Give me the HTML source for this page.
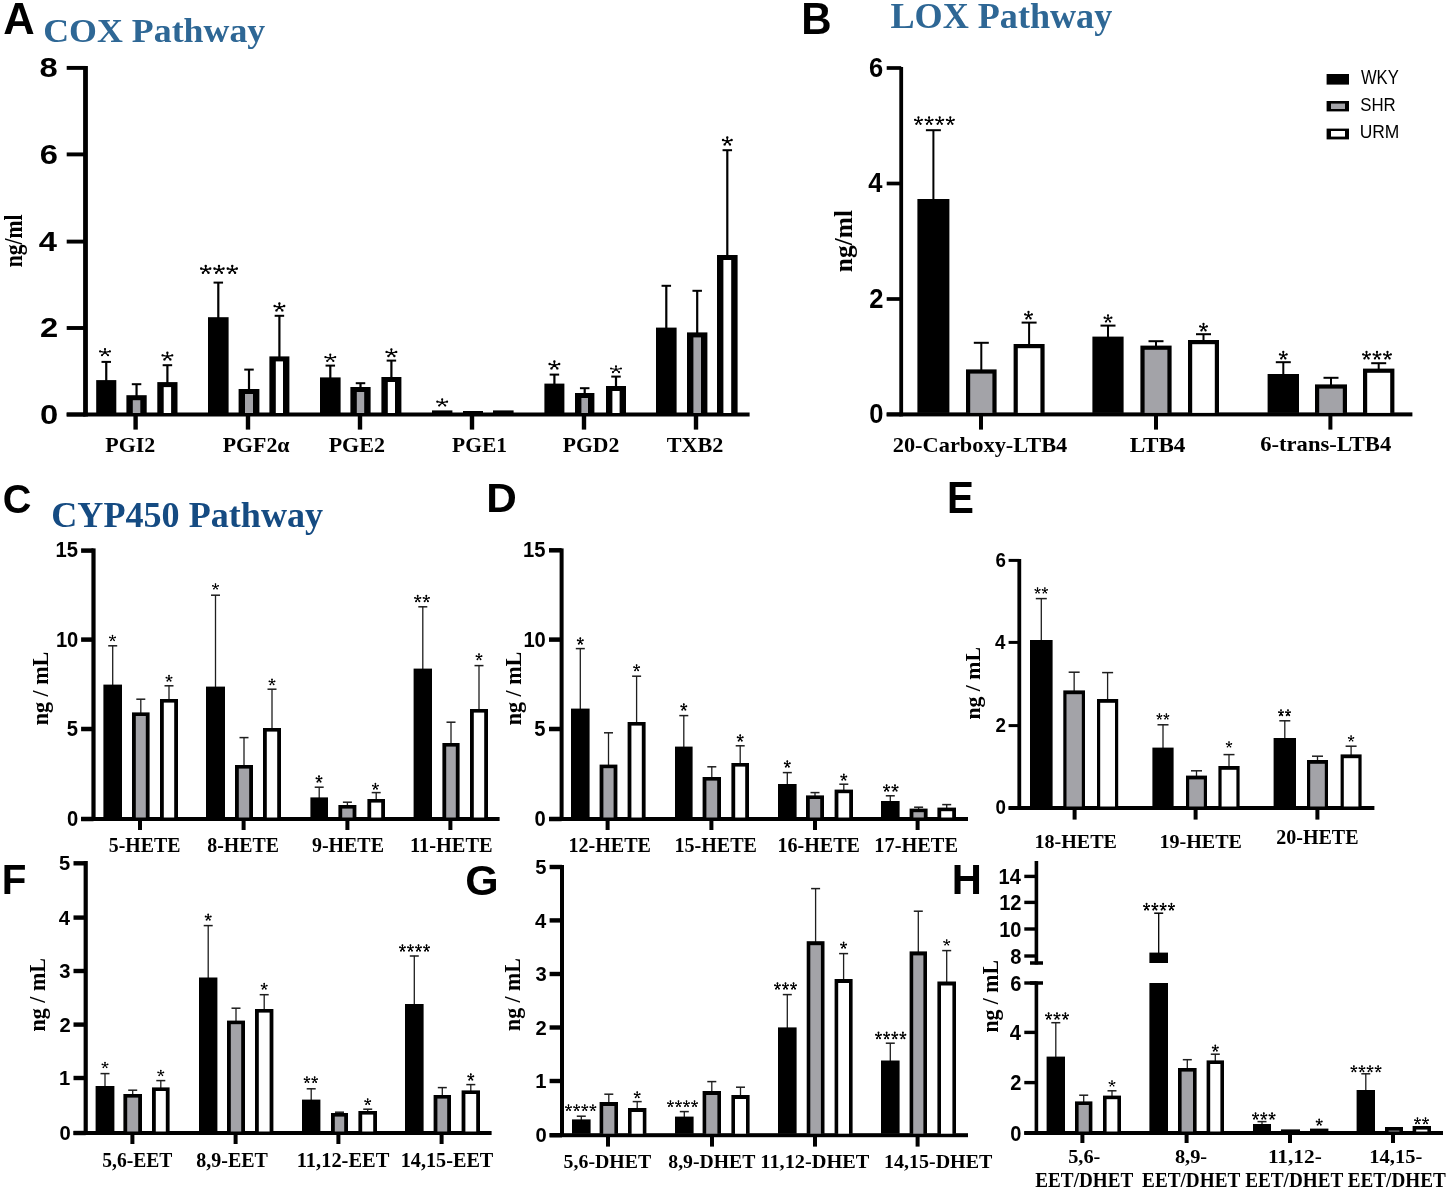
<!DOCTYPE html><html><head><meta charset="utf-8"><style>html,body{margin:0;padding:0;background:#fff;}svg{display:block;will-change:transform;}</style></head><body><svg width="1450" height="1191" viewBox="0 0 1450 1191">
<rect width="1450" height="1191" fill="#fff"/>
<text transform="translate(3.31,34.40) scale(0.9892,1)" font-family='"Liberation Sans", sans-serif' font-weight="bold" font-size="44.06" fill="#000">A</text>
<text transform="translate(801.27,34.00) scale(0.9652,1)" font-family='"Liberation Sans", sans-serif' font-weight="bold" font-size="43.48" fill="#000">B</text>
<text transform="translate(2.81,512.59) scale(0.9718,1)" font-family='"Liberation Sans", sans-serif' font-weight="bold" font-size="40.85" fill="#000">C</text>
<text transform="translate(486.25,512.40) scale(1.0271,1)" font-family='"Liberation Sans", sans-serif' font-weight="bold" font-size="41.16" fill="#000">D</text>
<text transform="translate(946.98,513.00) scale(0.9281,1)" font-family='"Liberation Sans", sans-serif' font-weight="bold" font-size="43.48" fill="#000">E</text>
<text transform="translate(1.77,894.40) scale(0.9480,1)" font-family='"Liberation Sans", sans-serif' font-weight="bold" font-size="42.61" fill="#000">F</text>
<text transform="translate(465.28,894.58) scale(1.0168,1)" font-family='"Liberation Sans", sans-serif' font-weight="bold" font-size="42.25" fill="#000">G</text>
<text transform="translate(951.69,894.40) scale(0.9786,1)" font-family='"Liberation Sans", sans-serif' font-weight="bold" font-size="42.61" fill="#000">H</text>
<text transform="translate(43.21,42.40) scale(1.0384,1)" font-family='"Liberation Serif", serif' font-weight="bold" font-size="34.53" fill="#2e6795">COX Pathway</text>
<text transform="translate(890.46,28.00) scale(1.0294,1)" font-family='"Liberation Serif", serif' font-weight="bold" font-size="35.11" fill="#2e6795">LOX Pathway</text>
<text transform="translate(51.19,527.00) scale(1.0048,1)" font-family='"Liberation Serif", serif' font-weight="bold" font-size="35.97" fill="#154b82">CYP450 Pathway</text>
<rect x="83.10" y="66.00" width="4.80" height="350.50" fill="#000"/>
<rect x="66.70" y="65.95" width="18.80" height="3.90" fill="#000"/>
<rect x="66.70" y="152.45" width="18.80" height="3.90" fill="#000"/>
<rect x="66.70" y="239.65" width="18.80" height="3.90" fill="#000"/>
<rect x="66.70" y="326.05" width="18.80" height="3.90" fill="#000"/>
<rect x="66.70" y="412.55" width="18.80" height="3.90" fill="#000"/>
<rect x="66.70" y="412.50" width="682.90" height="4.00" fill="#000"/>
<rect x="133.40" y="415.50" width="4.40" height="14.10" fill="#000"/>
<rect x="245.80" y="415.50" width="4.40" height="14.10" fill="#000"/>
<rect x="357.80" y="415.50" width="4.40" height="14.10" fill="#000"/>
<rect x="469.80" y="415.50" width="4.40" height="14.10" fill="#000"/>
<rect x="581.80" y="415.50" width="4.40" height="14.10" fill="#000"/>
<rect x="693.80" y="415.50" width="4.40" height="14.10" fill="#000"/>
<text transform="translate(39.62,77.03) scale(1.2040,1)" font-family='"Liberation Sans", sans-serif' font-weight="bold" font-size="27.18" fill="#000">8</text>
<text transform="translate(39.78,163.53) scale(1.2040,1)" font-family='"Liberation Sans", sans-serif' font-weight="bold" font-size="27.18" fill="#000">6</text>
<text transform="translate(38.80,250.73) scale(1.2040,1)" font-family='"Liberation Sans", sans-serif' font-weight="bold" font-size="27.18" fill="#000">4</text>
<text transform="translate(39.95,337.26) scale(1.2040,1)" font-family='"Liberation Sans", sans-serif' font-weight="bold" font-size="27.18" fill="#000">2</text>
<text transform="translate(39.95,423.63) scale(1.2040,1)" font-family='"Liberation Sans", sans-serif' font-weight="bold" font-size="27.18" fill="#000">0</text>
<rect x="105.15" y="361.70" width="2.20" height="19.40" fill="#000"/>
<rect x="101.50" y="360.90" width="9.50" height="2.00" fill="#000"/>
<rect x="96.20" y="380.10" width="20.10" height="32.90" fill="#000"/>
<rect x="135.45" y="384.00" width="2.20" height="12.20" fill="#000"/>
<rect x="131.80" y="383.20" width="9.50" height="2.00" fill="#000"/>
<rect x="126.40" y="395.20" width="20.30" height="17.80" fill="#000"/>
<rect x="132.80" y="400.20" width="7.50" height="12.80" fill="#a3a3a8"/>
<rect x="166.30" y="365.00" width="2.20" height="18.10" fill="#000"/>
<rect x="162.65" y="364.20" width="9.50" height="2.00" fill="#000"/>
<rect x="157.30" y="382.10" width="20.20" height="30.90" fill="#000"/>
<rect x="163.70" y="387.10" width="7.40" height="25.90" fill="#fff"/>
<rect x="217.20" y="282.40" width="2.20" height="35.80" fill="#000"/>
<rect x="213.55" y="281.60" width="9.50" height="2.00" fill="#000"/>
<rect x="208.00" y="317.20" width="20.60" height="95.80" fill="#000"/>
<rect x="247.90" y="369.40" width="2.20" height="20.60" fill="#000"/>
<rect x="244.25" y="368.60" width="9.50" height="2.00" fill="#000"/>
<rect x="238.60" y="389.00" width="20.80" height="24.00" fill="#000"/>
<rect x="245.00" y="394.00" width="8.00" height="19.00" fill="#a3a3a8"/>
<rect x="278.30" y="315.60" width="2.20" height="41.80" fill="#000"/>
<rect x="274.65" y="314.80" width="9.50" height="2.00" fill="#000"/>
<rect x="269.40" y="356.40" width="20.00" height="56.60" fill="#000"/>
<rect x="275.80" y="361.40" width="7.20" height="51.60" fill="#fff"/>
<rect x="329.20" y="365.40" width="2.20" height="13.00" fill="#000"/>
<rect x="325.55" y="364.60" width="9.50" height="2.00" fill="#000"/>
<rect x="320.00" y="377.40" width="20.60" height="35.60" fill="#000"/>
<rect x="359.40" y="383.00" width="2.20" height="5.00" fill="#000"/>
<rect x="355.75" y="382.20" width="9.50" height="2.00" fill="#000"/>
<rect x="350.40" y="387.00" width="20.20" height="26.00" fill="#000"/>
<rect x="356.80" y="392.00" width="7.40" height="21.00" fill="#a3a3a8"/>
<rect x="390.30" y="360.40" width="2.20" height="17.60" fill="#000"/>
<rect x="386.65" y="359.60" width="9.50" height="2.00" fill="#000"/>
<rect x="381.40" y="377.00" width="20.00" height="36.00" fill="#000"/>
<rect x="387.80" y="382.00" width="7.20" height="31.00" fill="#fff"/>
<rect x="432.00" y="410.40" width="20.40" height="2.60" fill="#000"/>
<rect x="463.00" y="411.00" width="20.00" height="2.00" fill="#000"/>
<rect x="493.00" y="410.40" width="20.60" height="2.60" fill="#000"/>
<rect x="553.30" y="374.40" width="2.20" height="10.20" fill="#000"/>
<rect x="549.65" y="373.60" width="9.50" height="2.00" fill="#000"/>
<rect x="544.40" y="383.60" width="20.00" height="29.40" fill="#000"/>
<rect x="583.60" y="388.00" width="2.20" height="6.00" fill="#000"/>
<rect x="579.95" y="387.20" width="9.50" height="2.00" fill="#000"/>
<rect x="575.00" y="393.00" width="19.40" height="20.00" fill="#000"/>
<rect x="581.40" y="398.00" width="6.60" height="15.00" fill="#a3a3a8"/>
<rect x="614.90" y="376.40" width="2.20" height="10.60" fill="#000"/>
<rect x="611.25" y="375.60" width="9.50" height="2.00" fill="#000"/>
<rect x="606.00" y="386.00" width="20.00" height="27.00" fill="#000"/>
<rect x="612.40" y="391.00" width="7.20" height="22.00" fill="#fff"/>
<rect x="665.20" y="285.60" width="2.20" height="43.00" fill="#000"/>
<rect x="661.55" y="284.80" width="9.50" height="2.00" fill="#000"/>
<rect x="656.00" y="327.60" width="20.60" height="85.40" fill="#000"/>
<rect x="696.10" y="290.60" width="2.20" height="42.80" fill="#000"/>
<rect x="692.45" y="289.80" width="9.50" height="2.00" fill="#000"/>
<rect x="687.00" y="332.40" width="20.40" height="80.60" fill="#000"/>
<rect x="693.40" y="337.40" width="7.60" height="75.60" fill="#a3a3a8"/>
<rect x="726.20" y="150.00" width="2.20" height="106.00" fill="#000"/>
<rect x="722.55" y="149.20" width="9.50" height="2.00" fill="#000"/>
<rect x="717.00" y="255.00" width="20.60" height="158.00" fill="#000"/>
<rect x="723.40" y="260.00" width="7.80" height="153.00" fill="#fff"/>
<path d="M105.00 352.47L105.00 349.08M105.00 352.47L109.92 351.43M105.00 352.47L108.04 355.22M105.00 352.47L101.96 355.22M105.00 352.47L100.08 351.43" stroke="#000" stroke-width="1.25" stroke-linecap="round" fill="none"/>
<path d="M103.92 349.08a1.08 1.08 0 1 0 2.16 0a1.08 1.08 0 1 0 -2.16 0M108.84 351.43a1.08 1.08 0 1 0 2.16 0a1.08 1.08 0 1 0 -2.16 0M106.96 355.22a1.08 1.08 0 1 0 2.16 0a1.08 1.08 0 1 0 -2.16 0M100.88 355.22a1.08 1.08 0 1 0 2.16 0a1.08 1.08 0 1 0 -2.16 0M99.00 351.43a1.08 1.08 0 1 0 2.16 0a1.08 1.08 0 1 0 -2.16 0M103.88 352.47a1.12 1.12 0 1 0 2.24 0a1.12 1.12 0 1 0 -2.24 0" fill="#000"/>
<path d="M167.40 356.45L167.40 352.77M167.40 356.45L172.23 355.31M167.40 356.45L170.39 359.43M167.40 356.45L164.41 359.43M167.40 356.45L162.57 355.31" stroke="#000" stroke-width="1.35" stroke-linecap="round" fill="none"/>
<path d="M166.23 352.77a1.17 1.17 0 1 0 2.34 0a1.17 1.17 0 1 0 -2.34 0M171.06 355.31a1.17 1.17 0 1 0 2.34 0a1.17 1.17 0 1 0 -2.34 0M169.22 359.43a1.17 1.17 0 1 0 2.34 0a1.17 1.17 0 1 0 -2.34 0M163.24 359.43a1.17 1.17 0 1 0 2.34 0a1.17 1.17 0 1 0 -2.34 0M161.40 355.31a1.17 1.17 0 1 0 2.34 0a1.17 1.17 0 1 0 -2.34 0M166.19 356.45a1.22 1.22 0 1 0 2.43 0a1.22 1.22 0 1 0 -2.43 0" fill="#000"/>
<path d="M205.71 269.76L205.71 266.00M205.71 269.76L210.23 268.60M205.71 269.76L208.51 272.80M205.71 269.76L202.92 272.80M205.71 269.76L201.20 268.60M219.00 269.76L219.00 266.00M219.00 269.76L223.52 268.60M219.00 269.76L221.79 272.80M219.00 269.76L216.21 272.80M219.00 269.76L214.48 268.60M232.29 269.76L232.29 266.00M232.29 269.76L236.80 268.60M232.29 269.76L235.08 272.80M232.29 269.76L229.49 272.80M232.29 269.76L227.77 268.60" stroke="#000" stroke-width="1.38" stroke-linecap="round" fill="none"/>
<path d="M204.52 266.00a1.20 1.20 0 1 0 2.39 0a1.20 1.20 0 1 0 -2.39 0M209.03 268.60a1.20 1.20 0 1 0 2.39 0a1.20 1.20 0 1 0 -2.39 0M207.31 272.80a1.20 1.20 0 1 0 2.39 0a1.20 1.20 0 1 0 -2.39 0M201.73 272.80a1.20 1.20 0 1 0 2.39 0a1.20 1.20 0 1 0 -2.39 0M200.00 268.60a1.20 1.20 0 1 0 2.39 0a1.20 1.20 0 1 0 -2.39 0M204.47 269.76a1.24 1.24 0 1 0 2.48 0a1.24 1.24 0 1 0 -2.48 0M217.80 266.00a1.20 1.20 0 1 0 2.39 0a1.20 1.20 0 1 0 -2.39 0M222.32 268.60a1.20 1.20 0 1 0 2.39 0a1.20 1.20 0 1 0 -2.39 0M220.60 272.80a1.20 1.20 0 1 0 2.39 0a1.20 1.20 0 1 0 -2.39 0M215.01 272.80a1.20 1.20 0 1 0 2.39 0a1.20 1.20 0 1 0 -2.39 0M213.29 268.60a1.20 1.20 0 1 0 2.39 0a1.20 1.20 0 1 0 -2.39 0M217.76 269.76a1.24 1.24 0 1 0 2.48 0a1.24 1.24 0 1 0 -2.48 0M231.09 266.00a1.20 1.20 0 1 0 2.39 0a1.20 1.20 0 1 0 -2.39 0M235.61 268.60a1.20 1.20 0 1 0 2.39 0a1.20 1.20 0 1 0 -2.39 0M233.88 272.80a1.20 1.20 0 1 0 2.39 0a1.20 1.20 0 1 0 -2.39 0M228.30 272.80a1.20 1.20 0 1 0 2.39 0a1.20 1.20 0 1 0 -2.39 0M226.57 268.60a1.20 1.20 0 1 0 2.39 0a1.20 1.20 0 1 0 -2.39 0M231.04 269.76a1.24 1.24 0 1 0 2.48 0a1.24 1.24 0 1 0 -2.48 0" fill="#000"/>
<path d="M279.40 307.27L279.40 303.42M279.40 307.27L284.18 306.08M279.40 307.27L282.35 310.38M279.40 307.27L276.45 310.38M279.40 307.27L274.62 306.08" stroke="#000" stroke-width="1.41" stroke-linecap="round" fill="none"/>
<path d="M278.18 303.42a1.22 1.22 0 1 0 2.44 0a1.22 1.22 0 1 0 -2.44 0M282.96 306.08a1.22 1.22 0 1 0 2.44 0a1.22 1.22 0 1 0 -2.44 0M281.13 310.38a1.22 1.22 0 1 0 2.44 0a1.22 1.22 0 1 0 -2.44 0M275.22 310.38a1.22 1.22 0 1 0 2.44 0a1.22 1.22 0 1 0 -2.44 0M273.40 306.08a1.22 1.22 0 1 0 2.44 0a1.22 1.22 0 1 0 -2.44 0M278.13 307.27a1.27 1.27 0 1 0 2.54 0a1.27 1.27 0 1 0 -2.54 0" fill="#000"/>
<path d="M330.30 358.13L330.30 354.69M330.30 358.13L335.21 357.07M330.30 358.13L333.33 360.91M330.30 358.13L327.27 360.91M330.30 358.13L325.39 357.07" stroke="#000" stroke-width="1.26" stroke-linecap="round" fill="none"/>
<path d="M329.21 354.69a1.09 1.09 0 1 0 2.18 0a1.09 1.09 0 1 0 -2.18 0M334.12 357.07a1.09 1.09 0 1 0 2.18 0a1.09 1.09 0 1 0 -2.18 0M332.24 360.91a1.09 1.09 0 1 0 2.18 0a1.09 1.09 0 1 0 -2.18 0M326.17 360.91a1.09 1.09 0 1 0 2.18 0a1.09 1.09 0 1 0 -2.18 0M324.30 357.07a1.09 1.09 0 1 0 2.18 0a1.09 1.09 0 1 0 -2.18 0M329.17 358.13a1.13 1.13 0 1 0 2.27 0a1.13 1.13 0 1 0 -2.27 0" fill="#000"/>
<path d="M391.40 353.05L391.40 349.37M391.40 353.05L396.23 351.91M391.40 353.05L394.39 356.03M391.40 353.05L388.41 356.03M391.40 353.05L386.57 351.91" stroke="#000" stroke-width="1.35" stroke-linecap="round" fill="none"/>
<path d="M390.23 349.37a1.17 1.17 0 1 0 2.34 0a1.17 1.17 0 1 0 -2.34 0M395.06 351.91a1.17 1.17 0 1 0 2.34 0a1.17 1.17 0 1 0 -2.34 0M393.22 356.03a1.17 1.17 0 1 0 2.34 0a1.17 1.17 0 1 0 -2.34 0M387.24 356.03a1.17 1.17 0 1 0 2.34 0a1.17 1.17 0 1 0 -2.34 0M385.40 351.91a1.17 1.17 0 1 0 2.34 0a1.17 1.17 0 1 0 -2.34 0M390.18 353.05a1.22 1.22 0 1 0 2.43 0a1.22 1.22 0 1 0 -2.43 0" fill="#000"/>
<path d="M442.20 402.73L442.20 399.29M442.20 402.73L447.11 401.67M442.20 402.73L445.23 405.51M442.20 402.73L439.17 405.51M442.20 402.73L437.29 401.67" stroke="#000" stroke-width="1.26" stroke-linecap="round" fill="none"/>
<path d="M441.11 399.29a1.09 1.09 0 1 0 2.18 0a1.09 1.09 0 1 0 -2.18 0M446.02 401.67a1.09 1.09 0 1 0 2.18 0a1.09 1.09 0 1 0 -2.18 0M444.14 405.51a1.09 1.09 0 1 0 2.18 0a1.09 1.09 0 1 0 -2.18 0M438.07 405.51a1.09 1.09 0 1 0 2.18 0a1.09 1.09 0 1 0 -2.18 0M436.20 401.67a1.09 1.09 0 1 0 2.18 0a1.09 1.09 0 1 0 -2.18 0M441.07 402.73a1.13 1.13 0 1 0 2.27 0a1.13 1.13 0 1 0 -2.27 0" fill="#000"/>
<path d="M554.40 365.27L554.40 361.42M554.40 365.27L559.18 364.08M554.40 365.27L557.35 368.38M554.40 365.27L551.45 368.38M554.40 365.27L549.62 364.08" stroke="#000" stroke-width="1.41" stroke-linecap="round" fill="none"/>
<path d="M553.18 361.42a1.22 1.22 0 1 0 2.44 0a1.22 1.22 0 1 0 -2.44 0M557.96 364.08a1.22 1.22 0 1 0 2.44 0a1.22 1.22 0 1 0 -2.44 0M556.13 368.38a1.22 1.22 0 1 0 2.44 0a1.22 1.22 0 1 0 -2.44 0M550.22 368.38a1.22 1.22 0 1 0 2.44 0a1.22 1.22 0 1 0 -2.44 0M548.40 364.08a1.22 1.22 0 1 0 2.44 0a1.22 1.22 0 1 0 -2.44 0M553.13 365.27a1.27 1.27 0 1 0 2.54 0a1.27 1.27 0 1 0 -2.54 0" fill="#000"/>
<path d="M616.00 369.51L616.00 366.24M616.00 369.51L620.96 368.50M616.00 369.51L619.07 372.16M616.00 369.51L612.93 372.16M616.00 369.51L611.04 368.50" stroke="#000" stroke-width="1.20" stroke-linecap="round" fill="none"/>
<path d="M614.96 366.24a1.04 1.04 0 1 0 2.08 0a1.04 1.04 0 1 0 -2.08 0M619.92 368.50a1.04 1.04 0 1 0 2.08 0a1.04 1.04 0 1 0 -2.08 0M618.03 372.16a1.04 1.04 0 1 0 2.08 0a1.04 1.04 0 1 0 -2.08 0M611.89 372.16a1.04 1.04 0 1 0 2.08 0a1.04 1.04 0 1 0 -2.08 0M610.00 368.50a1.04 1.04 0 1 0 2.08 0a1.04 1.04 0 1 0 -2.08 0M614.92 369.51a1.08 1.08 0 1 0 2.16 0a1.08 1.08 0 1 0 -2.16 0" fill="#000"/>
<path d="M727.30 141.27L727.30 137.42M727.30 141.27L731.58 140.08M727.30 141.27L729.94 144.38M727.30 141.27L724.66 144.38M727.30 141.27L723.02 140.08" stroke="#000" stroke-width="1.41" stroke-linecap="round" fill="none"/>
<path d="M726.08 137.42a1.22 1.22 0 1 0 2.44 0a1.22 1.22 0 1 0 -2.44 0M730.36 140.08a1.22 1.22 0 1 0 2.44 0a1.22 1.22 0 1 0 -2.44 0M728.72 144.38a1.22 1.22 0 1 0 2.44 0a1.22 1.22 0 1 0 -2.44 0M723.43 144.38a1.22 1.22 0 1 0 2.44 0a1.22 1.22 0 1 0 -2.44 0M721.80 140.08a1.22 1.22 0 1 0 2.44 0a1.22 1.22 0 1 0 -2.44 0M726.03 141.27a1.27 1.27 0 1 0 2.54 0a1.27 1.27 0 1 0 -2.54 0" fill="#000"/>
<text transform="translate(105.27,452.00) scale(1.0363,1)" font-family='"Liberation Serif", serif' font-weight="bold" font-size="21.21" fill="#000">PGI2</text>
<text transform="translate(222.67,452.00) scale(1.0314,1)" font-family='"Liberation Serif", serif' font-weight="bold" font-size="21.21" fill="#000">PGF2α</text>
<text transform="translate(328.67,452.00) scale(1.0392,1)" font-family='"Liberation Serif", serif' font-weight="bold" font-size="21.21" fill="#000">PGE2</text>
<text transform="translate(452.08,452.00) scale(1.0148,1)" font-family='"Liberation Serif", serif' font-weight="bold" font-size="21.21" fill="#000">PGE1</text>
<text transform="translate(562.67,452.00) scale(1.0242,1)" font-family='"Liberation Serif", serif' font-weight="bold" font-size="21.21" fill="#000">PGD2</text>
<text transform="translate(666.67,452.00) scale(1.0468,1)" font-family='"Liberation Serif", serif' font-weight="bold" font-size="21.21" fill="#000">TXB2</text>
<text transform="translate(22.20,267.34) rotate(-90) scale(0.8366,1)" font-family='"Liberation Serif", serif' font-weight="bold" font-size="25.90" fill="#000">ng/ml</text>
<rect x="899.30" y="67.00" width="3.80" height="349.40" fill="#000"/>
<rect x="886.70" y="66.15" width="14.50" height="3.70" fill="#000"/>
<rect x="886.70" y="181.65" width="14.50" height="3.70" fill="#000"/>
<rect x="886.70" y="297.15" width="14.50" height="3.70" fill="#000"/>
<rect x="886.70" y="412.55" width="14.50" height="3.70" fill="#000"/>
<rect x="886.70" y="412.40" width="525.70" height="4.00" fill="#000"/>
<rect x="979.00" y="415.40" width="4.00" height="14.20" fill="#000"/>
<rect x="1154.00" y="415.40" width="4.00" height="14.20" fill="#000"/>
<rect x="1328.40" y="415.40" width="4.00" height="14.20" fill="#000"/>
<text transform="translate(869.11,76.93) scale(0.9405,1)" font-family='"Liberation Sans", sans-serif' font-weight="bold" font-size="27.18" fill="#000">6</text>
<text transform="translate(868.34,192.43) scale(0.9405,1)" font-family='"Liberation Sans", sans-serif' font-weight="bold" font-size="27.18" fill="#000">4</text>
<text transform="translate(869.23,308.06) scale(0.9405,1)" font-family='"Liberation Sans", sans-serif' font-weight="bold" font-size="27.18" fill="#000">2</text>
<text transform="translate(869.23,423.33) scale(0.9405,1)" font-family='"Liberation Sans", sans-serif' font-weight="bold" font-size="27.18" fill="#000">0</text>
<rect x="932.40" y="130.00" width="2.00" height="70.00" fill="#000"/>
<rect x="925.90" y="129.20" width="15.00" height="2.00" fill="#000"/>
<rect x="917.40" y="199.00" width="32.00" height="213.90" fill="#000"/>
<rect x="980.30" y="342.60" width="2.00" height="27.80" fill="#000"/>
<rect x="973.80" y="341.80" width="15.00" height="2.00" fill="#000"/>
<rect x="966.00" y="369.40" width="30.60" height="43.50" fill="#000"/>
<rect x="970.20" y="373.60" width="22.20" height="39.30" fill="#a3a3a8"/>
<rect x="1028.10" y="322.40" width="2.00" height="22.60" fill="#000"/>
<rect x="1021.60" y="321.60" width="15.00" height="2.00" fill="#000"/>
<rect x="1013.60" y="344.00" width="31.00" height="68.90" fill="#000"/>
<rect x="1017.80" y="348.20" width="22.60" height="64.70" fill="#fff"/>
<rect x="1107.00" y="325.40" width="2.00" height="12.20" fill="#000"/>
<rect x="1100.50" y="324.60" width="15.00" height="2.00" fill="#000"/>
<rect x="1092.40" y="336.60" width="31.20" height="76.30" fill="#000"/>
<rect x="1155.00" y="341.00" width="2.00" height="5.60" fill="#000"/>
<rect x="1148.50" y="340.20" width="15.00" height="2.00" fill="#000"/>
<rect x="1140.40" y="345.60" width="31.20" height="67.30" fill="#000"/>
<rect x="1144.60" y="349.80" width="22.80" height="63.10" fill="#a3a3a8"/>
<rect x="1202.50" y="334.00" width="2.00" height="7.00" fill="#000"/>
<rect x="1196.00" y="333.20" width="15.00" height="2.00" fill="#000"/>
<rect x="1188.00" y="340.00" width="31.00" height="72.90" fill="#000"/>
<rect x="1192.20" y="344.20" width="22.60" height="68.70" fill="#fff"/>
<rect x="1282.30" y="362.00" width="2.00" height="13.00" fill="#000"/>
<rect x="1275.80" y="361.20" width="15.00" height="2.00" fill="#000"/>
<rect x="1267.60" y="374.00" width="31.40" height="38.90" fill="#000"/>
<rect x="1330.00" y="377.60" width="2.00" height="7.80" fill="#000"/>
<rect x="1323.50" y="376.80" width="15.00" height="2.00" fill="#000"/>
<rect x="1315.00" y="384.40" width="32.00" height="28.50" fill="#000"/>
<rect x="1319.20" y="388.60" width="23.60" height="24.30" fill="#a3a3a8"/>
<rect x="1377.70" y="363.00" width="2.00" height="6.60" fill="#000"/>
<rect x="1371.20" y="362.20" width="15.00" height="2.00" fill="#000"/>
<rect x="1363.00" y="368.60" width="31.40" height="44.30" fill="#000"/>
<rect x="1367.20" y="372.80" width="23.00" height="40.10" fill="#fff"/>
<path d="M918.47 120.89L918.47 117.33M918.47 120.89L921.90 119.79M918.47 120.89L920.59 123.77M918.47 120.89L916.34 123.77M918.47 120.89L915.03 119.79M929.09 120.89L929.09 117.33M929.09 120.89L932.53 119.79M929.09 120.89L931.21 123.77M929.09 120.89L926.97 123.77M929.09 120.89L925.65 119.79M939.71 120.89L939.71 117.33M939.71 120.89L943.15 119.79M939.71 120.89L941.83 123.77M939.71 120.89L937.59 123.77M939.71 120.89L936.27 119.79M950.33 120.89L950.33 117.33M950.33 120.89L953.77 119.79M950.33 120.89L952.46 123.77M950.33 120.89L948.21 123.77M950.33 120.89L946.90 119.79" stroke="#000" stroke-width="1.31" stroke-linecap="round" fill="none"/>
<path d="M917.34 117.33a1.13 1.13 0 1 0 2.26 0a1.13 1.13 0 1 0 -2.26 0M920.77 119.79a1.13 1.13 0 1 0 2.26 0a1.13 1.13 0 1 0 -2.26 0M919.46 123.77a1.13 1.13 0 1 0 2.26 0a1.13 1.13 0 1 0 -2.26 0M915.21 123.77a1.13 1.13 0 1 0 2.26 0a1.13 1.13 0 1 0 -2.26 0M913.90 119.79a1.13 1.13 0 1 0 2.26 0a1.13 1.13 0 1 0 -2.26 0M917.29 120.89a1.17 1.17 0 1 0 2.35 0a1.17 1.17 0 1 0 -2.35 0M927.96 117.33a1.13 1.13 0 1 0 2.26 0a1.13 1.13 0 1 0 -2.26 0M931.39 119.79a1.13 1.13 0 1 0 2.26 0a1.13 1.13 0 1 0 -2.26 0M930.08 123.77a1.13 1.13 0 1 0 2.26 0a1.13 1.13 0 1 0 -2.26 0M925.83 123.77a1.13 1.13 0 1 0 2.26 0a1.13 1.13 0 1 0 -2.26 0M924.52 119.79a1.13 1.13 0 1 0 2.26 0a1.13 1.13 0 1 0 -2.26 0M927.91 120.89a1.17 1.17 0 1 0 2.35 0a1.17 1.17 0 1 0 -2.35 0M938.58 117.33a1.13 1.13 0 1 0 2.26 0a1.13 1.13 0 1 0 -2.26 0M942.02 119.79a1.13 1.13 0 1 0 2.26 0a1.13 1.13 0 1 0 -2.26 0M940.70 123.77a1.13 1.13 0 1 0 2.26 0a1.13 1.13 0 1 0 -2.26 0M936.46 123.77a1.13 1.13 0 1 0 2.26 0a1.13 1.13 0 1 0 -2.26 0M935.14 119.79a1.13 1.13 0 1 0 2.26 0a1.13 1.13 0 1 0 -2.26 0M938.54 120.89a1.17 1.17 0 1 0 2.35 0a1.17 1.17 0 1 0 -2.35 0M949.20 117.33a1.13 1.13 0 1 0 2.26 0a1.13 1.13 0 1 0 -2.26 0M952.64 119.79a1.13 1.13 0 1 0 2.26 0a1.13 1.13 0 1 0 -2.26 0M951.33 123.77a1.13 1.13 0 1 0 2.26 0a1.13 1.13 0 1 0 -2.26 0M947.08 123.77a1.13 1.13 0 1 0 2.26 0a1.13 1.13 0 1 0 -2.26 0M945.77 119.79a1.13 1.13 0 1 0 2.26 0a1.13 1.13 0 1 0 -2.26 0M949.16 120.89a1.17 1.17 0 1 0 2.35 0a1.17 1.17 0 1 0 -2.35 0" fill="#000"/>
<path d="M1028.50 315.54L1028.50 311.94M1028.50 315.54L1031.86 314.43M1028.50 315.54L1030.57 318.46M1028.50 315.54L1026.43 318.46M1028.50 315.54L1025.14 314.43" stroke="#000" stroke-width="1.32" stroke-linecap="round" fill="none"/>
<path d="M1027.36 311.94a1.14 1.14 0 1 0 2.29 0a1.14 1.14 0 1 0 -2.29 0M1030.71 314.43a1.14 1.14 0 1 0 2.29 0a1.14 1.14 0 1 0 -2.29 0M1029.43 318.46a1.14 1.14 0 1 0 2.29 0a1.14 1.14 0 1 0 -2.29 0M1025.28 318.46a1.14 1.14 0 1 0 2.29 0a1.14 1.14 0 1 0 -2.29 0M1024.00 314.43a1.14 1.14 0 1 0 2.29 0a1.14 1.14 0 1 0 -2.29 0M1027.31 315.54a1.19 1.19 0 1 0 2.38 0a1.19 1.19 0 1 0 -2.38 0" fill="#000"/>
<path d="M1108.00 318.73L1108.00 315.29M1108.00 318.73L1111.41 317.67M1108.00 318.73L1110.11 321.51M1108.00 318.73L1105.89 321.51M1108.00 318.73L1104.59 317.67" stroke="#000" stroke-width="1.26" stroke-linecap="round" fill="none"/>
<path d="M1106.91 315.29a1.09 1.09 0 1 0 2.18 0a1.09 1.09 0 1 0 -2.18 0M1110.32 317.67a1.09 1.09 0 1 0 2.18 0a1.09 1.09 0 1 0 -2.18 0M1109.01 321.51a1.09 1.09 0 1 0 2.18 0a1.09 1.09 0 1 0 -2.18 0M1104.80 321.51a1.09 1.09 0 1 0 2.18 0a1.09 1.09 0 1 0 -2.18 0M1103.50 317.67a1.09 1.09 0 1 0 2.18 0a1.09 1.09 0 1 0 -2.18 0M1106.87 318.73a1.13 1.13 0 1 0 2.27 0a1.13 1.13 0 1 0 -2.27 0" fill="#000"/>
<path d="M1203.50 327.54L1203.50 323.94M1203.50 327.54L1206.86 326.43M1203.50 327.54L1205.57 330.46M1203.50 327.54L1201.43 330.46M1203.50 327.54L1200.14 326.43" stroke="#000" stroke-width="1.32" stroke-linecap="round" fill="none"/>
<path d="M1202.36 323.94a1.14 1.14 0 1 0 2.29 0a1.14 1.14 0 1 0 -2.29 0M1205.71 326.43a1.14 1.14 0 1 0 2.29 0a1.14 1.14 0 1 0 -2.29 0M1204.43 330.46a1.14 1.14 0 1 0 2.29 0a1.14 1.14 0 1 0 -2.29 0M1200.28 330.46a1.14 1.14 0 1 0 2.29 0a1.14 1.14 0 1 0 -2.29 0M1199.00 326.43a1.14 1.14 0 1 0 2.29 0a1.14 1.14 0 1 0 -2.29 0M1202.31 327.54a1.19 1.19 0 1 0 2.38 0a1.19 1.19 0 1 0 -2.38 0" fill="#000"/>
<path d="M1283.30 355.54L1283.30 351.94M1283.30 355.54L1286.66 354.43M1283.30 355.54L1285.37 358.46M1283.30 355.54L1281.23 358.46M1283.30 355.54L1279.94 354.43" stroke="#000" stroke-width="1.32" stroke-linecap="round" fill="none"/>
<path d="M1282.16 351.94a1.14 1.14 0 1 0 2.29 0a1.14 1.14 0 1 0 -2.29 0M1285.51 354.43a1.14 1.14 0 1 0 2.29 0a1.14 1.14 0 1 0 -2.29 0M1284.23 358.46a1.14 1.14 0 1 0 2.29 0a1.14 1.14 0 1 0 -2.29 0M1280.08 358.46a1.14 1.14 0 1 0 2.29 0a1.14 1.14 0 1 0 -2.29 0M1278.80 354.43a1.14 1.14 0 1 0 2.29 0a1.14 1.14 0 1 0 -2.29 0M1282.11 355.54a1.19 1.19 0 1 0 2.38 0a1.19 1.19 0 1 0 -2.38 0" fill="#000"/>
<path d="M1366.51 355.54L1366.51 351.94M1366.51 355.54L1369.88 354.43M1366.51 355.54L1368.59 358.46M1366.51 355.54L1364.43 358.46M1366.51 355.54L1363.14 354.43M1377.00 355.54L1377.00 351.94M1377.00 355.54L1380.37 354.43M1377.00 355.54L1379.08 358.46M1377.00 355.54L1374.92 358.46M1377.00 355.54L1373.63 354.43M1387.49 355.54L1387.49 351.94M1387.49 355.54L1390.86 354.43M1387.49 355.54L1389.57 358.46M1387.49 355.54L1385.41 358.46M1387.49 355.54L1384.12 354.43" stroke="#000" stroke-width="1.32" stroke-linecap="round" fill="none"/>
<path d="M1365.37 351.94a1.14 1.14 0 1 0 2.29 0a1.14 1.14 0 1 0 -2.29 0M1368.73 354.43a1.14 1.14 0 1 0 2.29 0a1.14 1.14 0 1 0 -2.29 0M1367.45 358.46a1.14 1.14 0 1 0 2.29 0a1.14 1.14 0 1 0 -2.29 0M1363.29 358.46a1.14 1.14 0 1 0 2.29 0a1.14 1.14 0 1 0 -2.29 0M1362.00 354.43a1.14 1.14 0 1 0 2.29 0a1.14 1.14 0 1 0 -2.29 0M1365.32 355.54a1.19 1.19 0 1 0 2.38 0a1.19 1.19 0 1 0 -2.38 0M1375.86 351.94a1.14 1.14 0 1 0 2.29 0a1.14 1.14 0 1 0 -2.29 0M1379.22 354.43a1.14 1.14 0 1 0 2.29 0a1.14 1.14 0 1 0 -2.29 0M1377.94 358.46a1.14 1.14 0 1 0 2.29 0a1.14 1.14 0 1 0 -2.29 0M1373.78 358.46a1.14 1.14 0 1 0 2.29 0a1.14 1.14 0 1 0 -2.29 0M1372.49 354.43a1.14 1.14 0 1 0 2.29 0a1.14 1.14 0 1 0 -2.29 0M1375.81 355.54a1.19 1.19 0 1 0 2.38 0a1.19 1.19 0 1 0 -2.38 0M1386.35 351.94a1.14 1.14 0 1 0 2.29 0a1.14 1.14 0 1 0 -2.29 0M1389.71 354.43a1.14 1.14 0 1 0 2.29 0a1.14 1.14 0 1 0 -2.29 0M1388.43 358.46a1.14 1.14 0 1 0 2.29 0a1.14 1.14 0 1 0 -2.29 0M1384.26 358.46a1.14 1.14 0 1 0 2.29 0a1.14 1.14 0 1 0 -2.29 0M1382.98 354.43a1.14 1.14 0 1 0 2.29 0a1.14 1.14 0 1 0 -2.29 0M1386.30 355.54a1.19 1.19 0 1 0 2.38 0a1.19 1.19 0 1 0 -2.38 0" fill="#000"/>
<text transform="translate(892.70,452.40) scale(1.0813,1)" font-family='"Liberation Serif", serif' font-weight="bold" font-size="20.72" fill="#000">20-Carboxy-LTB4</text>
<text transform="translate(1129.65,452.40) scale(1.0614,1)" font-family='"Liberation Serif", serif' font-weight="bold" font-size="21.82" fill="#000">LTB4</text>
<text transform="translate(1260.21,451.00) scale(1.0668,1)" font-family='"Liberation Serif", serif' font-weight="bold" font-size="21.21" fill="#000">6-trans-LTB4</text>
<text transform="translate(852.10,272.14) rotate(-90) scale(1.0037,1)" font-family='"Liberation Serif", serif' font-weight="bold" font-size="25.32" fill="#000">ng/ml</text>
<rect x="91.40" y="548.40" width="4.20" height="272.60" fill="#000"/>
<rect x="81.10" y="548.35" width="12.40" height="4.50" fill="#000"/>
<rect x="81.10" y="637.35" width="12.40" height="4.50" fill="#000"/>
<rect x="81.10" y="726.75" width="12.40" height="4.50" fill="#000"/>
<rect x="81.10" y="816.75" width="12.40" height="4.50" fill="#000"/>
<rect x="81.10" y="817.00" width="418.50" height="4.00" fill="#000"/>
<rect x="138.00" y="820.00" width="4.00" height="10.00" fill="#000"/>
<rect x="241.60" y="820.00" width="4.00" height="10.00" fill="#000"/>
<rect x="345.40" y="820.00" width="4.00" height="10.00" fill="#000"/>
<rect x="448.40" y="820.00" width="4.00" height="10.00" fill="#000"/>
<text transform="translate(55.59,557.49) scale(0.9488,1)" font-family='"Liberation Sans", sans-serif' font-weight="bold" font-size="21.29" fill="#000">15</text>
<text transform="translate(55.89,646.59) scale(0.9488,1)" font-family='"Liberation Sans", sans-serif' font-weight="bold" font-size="21.29" fill="#000">10</text>
<text transform="translate(66.80,735.89) scale(0.9488,1)" font-family='"Liberation Sans", sans-serif' font-weight="bold" font-size="21.29" fill="#000">5</text>
<text transform="translate(67.10,825.99) scale(0.9488,1)" font-family='"Liberation Sans", sans-serif' font-weight="bold" font-size="21.29" fill="#000">0</text>
<rect x="112.05" y="645.60" width="1.30" height="40.00" fill="#1e1e1e"/>
<rect x="108.20" y="645.05" width="9.00" height="1.50" fill="#1e1e1e"/>
<rect x="103.40" y="684.60" width="18.60" height="132.90" fill="#000"/>
<rect x="140.15" y="699.00" width="1.30" height="14.40" fill="#1e1e1e"/>
<rect x="136.30" y="698.45" width="9.00" height="1.50" fill="#1e1e1e"/>
<rect x="132.00" y="712.40" width="17.60" height="105.10" fill="#000"/>
<rect x="135.80" y="716.00" width="10.00" height="101.50" fill="#a3a3a8"/>
<rect x="168.35" y="685.60" width="1.30" height="14.40" fill="#1e1e1e"/>
<rect x="164.50" y="685.05" width="9.00" height="1.50" fill="#1e1e1e"/>
<rect x="160.00" y="699.00" width="18.00" height="118.50" fill="#000"/>
<rect x="163.80" y="702.60" width="10.40" height="114.90" fill="#fff"/>
<rect x="214.85" y="595.00" width="1.30" height="92.60" fill="#1e1e1e"/>
<rect x="211.00" y="594.45" width="9.00" height="1.50" fill="#1e1e1e"/>
<rect x="206.00" y="686.60" width="19.00" height="130.90" fill="#000"/>
<rect x="243.35" y="737.40" width="1.30" height="28.60" fill="#1e1e1e"/>
<rect x="239.50" y="736.85" width="9.00" height="1.50" fill="#1e1e1e"/>
<rect x="235.00" y="765.00" width="18.00" height="52.50" fill="#000"/>
<rect x="238.80" y="768.60" width="10.40" height="48.90" fill="#a3a3a8"/>
<rect x="271.35" y="689.00" width="1.30" height="40.00" fill="#1e1e1e"/>
<rect x="267.50" y="688.45" width="9.00" height="1.50" fill="#1e1e1e"/>
<rect x="263.00" y="728.00" width="18.00" height="89.50" fill="#000"/>
<rect x="266.80" y="731.60" width="10.40" height="85.90" fill="#fff"/>
<rect x="318.55" y="787.00" width="1.30" height="11.40" fill="#1e1e1e"/>
<rect x="314.70" y="786.45" width="9.00" height="1.50" fill="#1e1e1e"/>
<rect x="310.40" y="797.40" width="17.60" height="20.10" fill="#000"/>
<rect x="346.75" y="802.00" width="1.30" height="4.00" fill="#1e1e1e"/>
<rect x="342.90" y="801.45" width="9.00" height="1.50" fill="#1e1e1e"/>
<rect x="338.40" y="805.00" width="18.00" height="12.50" fill="#000"/>
<rect x="342.20" y="808.60" width="10.40" height="8.90" fill="#a3a3a8"/>
<rect x="375.55" y="792.40" width="1.30" height="7.60" fill="#1e1e1e"/>
<rect x="371.70" y="791.85" width="9.00" height="1.50" fill="#1e1e1e"/>
<rect x="367.40" y="799.00" width="17.60" height="18.50" fill="#000"/>
<rect x="371.20" y="802.60" width="10.00" height="14.90" fill="#fff"/>
<rect x="422.15" y="606.60" width="1.30" height="63.00" fill="#1e1e1e"/>
<rect x="418.30" y="606.05" width="9.00" height="1.50" fill="#1e1e1e"/>
<rect x="413.60" y="668.60" width="18.40" height="148.90" fill="#000"/>
<rect x="450.35" y="722.00" width="1.30" height="22.00" fill="#1e1e1e"/>
<rect x="446.50" y="721.45" width="9.00" height="1.50" fill="#1e1e1e"/>
<rect x="442.40" y="743.00" width="17.20" height="74.50" fill="#000"/>
<rect x="446.20" y="746.60" width="9.60" height="70.90" fill="#a3a3a8"/>
<rect x="478.35" y="665.40" width="1.30" height="44.60" fill="#1e1e1e"/>
<rect x="474.50" y="664.85" width="9.00" height="1.50" fill="#1e1e1e"/>
<rect x="470.00" y="709.00" width="18.00" height="108.50" fill="#000"/>
<rect x="473.80" y="712.60" width="10.40" height="104.90" fill="#fff"/>
<path d="M112.50 638.25L112.50 635.63M112.50 638.25L115.17 637.44M112.50 638.25L114.15 640.37M112.50 638.25L110.85 640.37M112.50 638.25L109.83 637.44" stroke="#000" stroke-width="1.00" stroke-linecap="round" fill="none"/>
<path d="M111.67 635.63a0.83 0.83 0 1 0 1.66 0a0.83 0.83 0 1 0 -1.66 0M114.34 637.44a0.83 0.83 0 1 0 1.66 0a0.83 0.83 0 1 0 -1.66 0M113.32 640.37a0.83 0.83 0 1 0 1.66 0a0.83 0.83 0 1 0 -1.66 0M110.02 640.37a0.83 0.83 0 1 0 1.66 0a0.83 0.83 0 1 0 -1.66 0M109.00 637.44a0.83 0.83 0 1 0 1.66 0a0.83 0.83 0 1 0 -1.66 0M111.60 638.25a0.90 0.90 0 1 0 1.80 0a0.90 0.90 0 1 0 -1.80 0" fill="#000"/>
<path d="M169.00 678.47L169.00 675.68M169.00 678.47L171.62 677.61M169.00 678.47L170.62 680.72M169.00 678.47L167.38 680.72M169.00 678.47L166.38 677.61" stroke="#000" stroke-width="1.02" stroke-linecap="round" fill="none"/>
<path d="M168.12 675.68a0.88 0.88 0 1 0 1.77 0a0.88 0.88 0 1 0 -1.77 0M170.73 677.61a0.88 0.88 0 1 0 1.77 0a0.88 0.88 0 1 0 -1.77 0M169.73 680.72a0.88 0.88 0 1 0 1.77 0a0.88 0.88 0 1 0 -1.77 0M166.50 680.72a0.88 0.88 0 1 0 1.77 0a0.88 0.88 0 1 0 -1.77 0M165.50 677.61a0.88 0.88 0 1 0 1.77 0a0.88 0.88 0 1 0 -1.77 0M168.08 678.47a0.92 0.92 0 1 0 1.84 0a0.92 0.92 0 1 0 -1.84 0" fill="#000"/>
<path d="M215.50 586.65L215.50 584.03M215.50 586.65L218.17 585.84M215.50 586.65L217.15 588.77M215.50 586.65L213.85 588.77M215.50 586.65L212.83 585.84" stroke="#000" stroke-width="1.00" stroke-linecap="round" fill="none"/>
<path d="M214.67 584.03a0.83 0.83 0 1 0 1.66 0a0.83 0.83 0 1 0 -1.66 0M217.34 585.84a0.83 0.83 0 1 0 1.66 0a0.83 0.83 0 1 0 -1.66 0M216.32 588.77a0.83 0.83 0 1 0 1.66 0a0.83 0.83 0 1 0 -1.66 0M213.02 588.77a0.83 0.83 0 1 0 1.66 0a0.83 0.83 0 1 0 -1.66 0M212.00 585.84a0.83 0.83 0 1 0 1.66 0a0.83 0.83 0 1 0 -1.66 0M214.60 586.65a0.90 0.90 0 1 0 1.80 0a0.90 0.90 0 1 0 -1.80 0" fill="#000"/>
<path d="M272.00 682.16L272.00 679.46M272.00 682.16L274.64 681.32M272.00 682.16L273.63 684.34M272.00 682.16L270.37 684.34M272.00 682.16L269.36 681.32" stroke="#000" stroke-width="1.00" stroke-linecap="round" fill="none"/>
<path d="M271.14 679.46a0.86 0.86 0 1 0 1.72 0a0.86 0.86 0 1 0 -1.72 0M273.78 681.32a0.86 0.86 0 1 0 1.72 0a0.86 0.86 0 1 0 -1.72 0M272.77 684.34a0.86 0.86 0 1 0 1.72 0a0.86 0.86 0 1 0 -1.72 0M269.51 684.34a0.86 0.86 0 1 0 1.72 0a0.86 0.86 0 1 0 -1.72 0M268.50 681.32a0.86 0.86 0 1 0 1.72 0a0.86 0.86 0 1 0 -1.72 0M271.10 682.16a0.90 0.90 0 1 0 1.80 0a0.90 0.90 0 1 0 -1.80 0" fill="#000"/>
<path d="M319.00 779.19L319.00 776.16M319.00 779.19L321.54 778.25M319.00 779.19L320.57 781.64M319.00 779.19L317.43 781.64M319.00 779.19L316.46 778.25" stroke="#000" stroke-width="1.11" stroke-linecap="round" fill="none"/>
<path d="M318.04 776.16a0.96 0.96 0 1 0 1.92 0a0.96 0.96 0 1 0 -1.92 0M320.58 778.25a0.96 0.96 0 1 0 1.92 0a0.96 0.96 0 1 0 -1.92 0M319.61 781.64a0.96 0.96 0 1 0 1.92 0a0.96 0.96 0 1 0 -1.92 0M316.47 781.64a0.96 0.96 0 1 0 1.92 0a0.96 0.96 0 1 0 -1.92 0M315.50 778.25a0.96 0.96 0 1 0 1.92 0a0.96 0.96 0 1 0 -1.92 0M318.00 779.19a1.00 1.00 0 1 0 2.00 0a1.00 1.00 0 1 0 -2.00 0" fill="#000"/>
<path d="M375.40 786.47L375.40 783.68M375.40 786.47L378.02 785.61M375.40 786.47L377.02 788.72M375.40 786.47L373.78 788.72M375.40 786.47L372.78 785.61" stroke="#000" stroke-width="1.02" stroke-linecap="round" fill="none"/>
<path d="M374.52 783.68a0.88 0.88 0 1 0 1.77 0a0.88 0.88 0 1 0 -1.77 0M377.13 785.61a0.88 0.88 0 1 0 1.77 0a0.88 0.88 0 1 0 -1.77 0M376.13 788.72a0.88 0.88 0 1 0 1.77 0a0.88 0.88 0 1 0 -1.77 0M372.90 788.72a0.88 0.88 0 1 0 1.77 0a0.88 0.88 0 1 0 -1.77 0M371.90 785.61a0.88 0.88 0 1 0 1.77 0a0.88 0.88 0 1 0 -1.77 0M374.48 786.47a0.92 0.92 0 1 0 1.84 0a0.92 0.92 0 1 0 -1.84 0" fill="#000"/>
<path d="M417.70 598.79L417.70 595.76M417.70 598.79L420.44 597.85M417.70 598.79L419.39 601.24M417.70 598.79L416.01 601.24M417.70 598.79L414.96 597.85M426.30 598.79L426.30 595.76M426.30 598.79L429.04 597.85M426.30 598.79L427.99 601.24M426.30 598.79L424.61 601.24M426.30 598.79L423.56 597.85" stroke="#000" stroke-width="1.11" stroke-linecap="round" fill="none"/>
<path d="M416.74 595.76a0.96 0.96 0 1 0 1.92 0a0.96 0.96 0 1 0 -1.92 0M419.47 597.85a0.96 0.96 0 1 0 1.92 0a0.96 0.96 0 1 0 -1.92 0M418.43 601.24a0.96 0.96 0 1 0 1.92 0a0.96 0.96 0 1 0 -1.92 0M415.05 601.24a0.96 0.96 0 1 0 1.92 0a0.96 0.96 0 1 0 -1.92 0M414.00 597.85a0.96 0.96 0 1 0 1.92 0a0.96 0.96 0 1 0 -1.92 0M416.70 598.79a1.00 1.00 0 1 0 2.00 0a1.00 1.00 0 1 0 -2.00 0M425.34 595.76a0.96 0.96 0 1 0 1.92 0a0.96 0.96 0 1 0 -1.92 0M428.08 597.85a0.96 0.96 0 1 0 1.92 0a0.96 0.96 0 1 0 -1.92 0M427.03 601.24a0.96 0.96 0 1 0 1.92 0a0.96 0.96 0 1 0 -1.92 0M423.65 601.24a0.96 0.96 0 1 0 1.92 0a0.96 0.96 0 1 0 -1.92 0M422.60 597.85a0.96 0.96 0 1 0 1.92 0a0.96 0.96 0 1 0 -1.92 0M425.30 598.79a1.00 1.00 0 1 0 2.00 0a1.00 1.00 0 1 0 -2.00 0" fill="#000"/>
<path d="M479.00 656.97L479.00 654.11M479.00 656.97L481.59 656.09M479.00 656.97L480.60 659.29M479.00 656.97L477.40 659.29M479.00 656.97L476.41 656.09" stroke="#000" stroke-width="1.05" stroke-linecap="round" fill="none"/>
<path d="M478.09 654.11a0.91 0.91 0 1 0 1.82 0a0.91 0.91 0 1 0 -1.82 0M480.68 656.09a0.91 0.91 0 1 0 1.82 0a0.91 0.91 0 1 0 -1.82 0M479.69 659.29a0.91 0.91 0 1 0 1.82 0a0.91 0.91 0 1 0 -1.82 0M476.49 659.29a0.91 0.91 0 1 0 1.82 0a0.91 0.91 0 1 0 -1.82 0M475.50 656.09a0.91 0.91 0 1 0 1.82 0a0.91 0.91 0 1 0 -1.82 0M478.06 656.97a0.95 0.95 0 1 0 1.89 0a0.95 0.95 0 1 0 -1.89 0" fill="#000"/>
<text transform="translate(108.81,852.40) scale(0.9693,1)" font-family='"Liberation Serif", serif' font-weight="bold" font-size="20.46" fill="#000">5-HETE</text>
<text transform="translate(207.30,852.40) scale(0.9855,1)" font-family='"Liberation Serif", serif' font-weight="bold" font-size="20.15" fill="#000">8-HETE</text>
<text transform="translate(311.90,852.40) scale(0.9837,1)" font-family='"Liberation Serif", serif' font-weight="bold" font-size="20.30" fill="#000">9-HETE</text>
<text transform="translate(409.97,852.40) scale(1.0039,1)" font-family='"Liberation Serif", serif' font-weight="bold" font-size="20.30" fill="#000">11-HETE</text>
<text transform="translate(47.70,725.35) rotate(-90) scale(0.9928,1)" font-family='"Liberation Serif", serif' font-weight="bold" font-size="22.27" fill="#000">ng / mL</text>
<rect x="559.60" y="548.40" width="4.00" height="272.60" fill="#000"/>
<rect x="549.00" y="548.05" width="12.60" height="4.50" fill="#000"/>
<rect x="549.00" y="637.35" width="12.60" height="4.50" fill="#000"/>
<rect x="549.00" y="726.75" width="12.60" height="4.50" fill="#000"/>
<rect x="549.00" y="816.75" width="12.60" height="4.50" fill="#000"/>
<rect x="549.00" y="817.00" width="419.00" height="4.00" fill="#000"/>
<rect x="605.60" y="820.00" width="4.00" height="10.00" fill="#000"/>
<rect x="709.40" y="820.00" width="4.00" height="10.00" fill="#000"/>
<rect x="813.00" y="820.00" width="4.00" height="10.00" fill="#000"/>
<rect x="915.60" y="820.00" width="4.00" height="10.00" fill="#000"/>
<text transform="translate(523.09,557.19) scale(0.9488,1)" font-family='"Liberation Sans", sans-serif' font-weight="bold" font-size="21.29" fill="#000">15</text>
<text transform="translate(523.39,646.59) scale(0.9488,1)" font-family='"Liberation Sans", sans-serif' font-weight="bold" font-size="21.29" fill="#000">10</text>
<text transform="translate(534.30,735.89) scale(0.9488,1)" font-family='"Liberation Sans", sans-serif' font-weight="bold" font-size="21.29" fill="#000">5</text>
<text transform="translate(534.60,825.99) scale(0.9488,1)" font-family='"Liberation Sans", sans-serif' font-weight="bold" font-size="21.29" fill="#000">0</text>
<rect x="579.65" y="648.40" width="1.30" height="61.20" fill="#1e1e1e"/>
<rect x="575.80" y="647.85" width="9.00" height="1.50" fill="#1e1e1e"/>
<rect x="571.00" y="708.60" width="18.60" height="108.90" fill="#000"/>
<rect x="607.85" y="732.60" width="1.30" height="33.00" fill="#1e1e1e"/>
<rect x="604.00" y="732.05" width="9.00" height="1.50" fill="#1e1e1e"/>
<rect x="599.60" y="764.60" width="17.80" height="52.90" fill="#000"/>
<rect x="603.40" y="768.20" width="10.20" height="49.30" fill="#a3a3a8"/>
<rect x="635.95" y="676.00" width="1.30" height="47.00" fill="#1e1e1e"/>
<rect x="632.10" y="675.45" width="9.00" height="1.50" fill="#1e1e1e"/>
<rect x="627.60" y="722.00" width="18.00" height="95.50" fill="#000"/>
<rect x="631.40" y="725.60" width="10.40" height="91.90" fill="#fff"/>
<rect x="683.15" y="715.40" width="1.30" height="32.20" fill="#1e1e1e"/>
<rect x="679.30" y="714.85" width="9.00" height="1.50" fill="#1e1e1e"/>
<rect x="675.00" y="746.60" width="17.60" height="70.90" fill="#000"/>
<rect x="711.15" y="766.60" width="1.30" height="11.40" fill="#1e1e1e"/>
<rect x="707.30" y="766.05" width="9.00" height="1.50" fill="#1e1e1e"/>
<rect x="702.60" y="777.00" width="18.40" height="40.50" fill="#000"/>
<rect x="706.40" y="780.60" width="10.80" height="36.90" fill="#a3a3a8"/>
<rect x="739.55" y="745.60" width="1.30" height="18.40" fill="#1e1e1e"/>
<rect x="735.70" y="745.05" width="9.00" height="1.50" fill="#1e1e1e"/>
<rect x="731.40" y="763.00" width="17.60" height="54.50" fill="#000"/>
<rect x="735.20" y="766.60" width="10.00" height="50.90" fill="#fff"/>
<rect x="786.65" y="772.40" width="1.30" height="12.60" fill="#1e1e1e"/>
<rect x="782.80" y="771.85" width="9.00" height="1.50" fill="#1e1e1e"/>
<rect x="778.00" y="784.00" width="18.60" height="33.50" fill="#000"/>
<rect x="814.35" y="792.40" width="1.30" height="4.00" fill="#1e1e1e"/>
<rect x="810.50" y="791.85" width="9.00" height="1.50" fill="#1e1e1e"/>
<rect x="806.00" y="795.40" width="18.00" height="22.10" fill="#000"/>
<rect x="809.80" y="799.00" width="10.40" height="18.50" fill="#a3a3a8"/>
<rect x="843.15" y="784.00" width="1.30" height="6.60" fill="#1e1e1e"/>
<rect x="839.30" y="783.45" width="9.00" height="1.50" fill="#1e1e1e"/>
<rect x="834.60" y="789.60" width="18.40" height="27.90" fill="#000"/>
<rect x="838.40" y="793.20" width="10.80" height="24.30" fill="#fff"/>
<rect x="889.65" y="795.60" width="1.30" height="6.40" fill="#1e1e1e"/>
<rect x="885.80" y="795.05" width="9.00" height="1.50" fill="#1e1e1e"/>
<rect x="881.00" y="801.00" width="18.60" height="16.50" fill="#000"/>
<rect x="917.95" y="807.00" width="1.30" height="2.60" fill="#1e1e1e"/>
<rect x="914.10" y="806.45" width="9.00" height="1.50" fill="#1e1e1e"/>
<rect x="909.60" y="808.60" width="18.00" height="8.90" fill="#000"/>
<rect x="913.40" y="812.20" width="10.40" height="5.30" fill="#a3a3a8"/>
<rect x="946.05" y="804.40" width="1.30" height="4.20" fill="#1e1e1e"/>
<rect x="942.20" y="803.85" width="9.00" height="1.50" fill="#1e1e1e"/>
<rect x="937.40" y="807.60" width="18.60" height="9.90" fill="#000"/>
<rect x="941.20" y="811.20" width="11.00" height="6.30" fill="#fff"/>
<path d="M580.30 641.19L580.30 638.16M580.30 641.19L582.84 640.25M580.30 641.19L581.87 643.64M580.30 641.19L578.73 643.64M580.30 641.19L577.76 640.25" stroke="#000" stroke-width="1.11" stroke-linecap="round" fill="none"/>
<path d="M579.34 638.16a0.96 0.96 0 1 0 1.92 0a0.96 0.96 0 1 0 -1.92 0M581.88 640.25a0.96 0.96 0 1 0 1.92 0a0.96 0.96 0 1 0 -1.92 0M580.91 643.64a0.96 0.96 0 1 0 1.92 0a0.96 0.96 0 1 0 -1.92 0M577.77 643.64a0.96 0.96 0 1 0 1.92 0a0.96 0.96 0 1 0 -1.92 0M576.80 640.25a0.96 0.96 0 1 0 1.92 0a0.96 0.96 0 1 0 -1.92 0M579.30 641.19a1.00 1.00 0 1 0 2.00 0a1.00 1.00 0 1 0 -2.00 0" fill="#000"/>
<path d="M636.60 667.97L636.60 665.11M636.60 667.97L639.19 667.09M636.60 667.97L638.20 670.29M636.60 667.97L635.00 670.29M636.60 667.97L634.01 667.09" stroke="#000" stroke-width="1.05" stroke-linecap="round" fill="none"/>
<path d="M635.69 665.11a0.91 0.91 0 1 0 1.82 0a0.91 0.91 0 1 0 -1.82 0M638.28 667.09a0.91 0.91 0 1 0 1.82 0a0.91 0.91 0 1 0 -1.82 0M637.29 670.29a0.91 0.91 0 1 0 1.82 0a0.91 0.91 0 1 0 -1.82 0M634.09 670.29a0.91 0.91 0 1 0 1.82 0a0.91 0.91 0 1 0 -1.82 0M633.10 667.09a0.91 0.91 0 1 0 1.82 0a0.91 0.91 0 1 0 -1.82 0M635.65 667.97a0.95 0.95 0 1 0 1.89 0a0.95 0.95 0 1 0 -1.89 0" fill="#000"/>
<path d="M683.80 707.19L683.80 704.16M683.80 707.19L686.34 706.25M683.80 707.19L685.37 709.64M683.80 707.19L682.23 709.64M683.80 707.19L681.26 706.25" stroke="#000" stroke-width="1.11" stroke-linecap="round" fill="none"/>
<path d="M682.84 704.16a0.96 0.96 0 1 0 1.92 0a0.96 0.96 0 1 0 -1.92 0M685.38 706.25a0.96 0.96 0 1 0 1.92 0a0.96 0.96 0 1 0 -1.92 0M684.41 709.64a0.96 0.96 0 1 0 1.92 0a0.96 0.96 0 1 0 -1.92 0M681.27 709.64a0.96 0.96 0 1 0 1.92 0a0.96 0.96 0 1 0 -1.92 0M680.30 706.25a0.96 0.96 0 1 0 1.92 0a0.96 0.96 0 1 0 -1.92 0M682.80 707.19a1.00 1.00 0 1 0 2.00 0a1.00 1.00 0 1 0 -2.00 0" fill="#000"/>
<path d="M740.20 738.19L740.20 735.16M740.20 738.19L742.74 737.25M740.20 738.19L741.77 740.64M740.20 738.19L738.63 740.64M740.20 738.19L737.66 737.25" stroke="#000" stroke-width="1.11" stroke-linecap="round" fill="none"/>
<path d="M739.24 735.16a0.96 0.96 0 1 0 1.92 0a0.96 0.96 0 1 0 -1.92 0M741.78 737.25a0.96 0.96 0 1 0 1.92 0a0.96 0.96 0 1 0 -1.92 0M740.81 740.64a0.96 0.96 0 1 0 1.92 0a0.96 0.96 0 1 0 -1.92 0M737.67 740.64a0.96 0.96 0 1 0 1.92 0a0.96 0.96 0 1 0 -1.92 0M736.70 737.25a0.96 0.96 0 1 0 1.92 0a0.96 0.96 0 1 0 -1.92 0M739.20 738.19a1.00 1.00 0 1 0 2.00 0a1.00 1.00 0 1 0 -2.00 0" fill="#000"/>
<path d="M787.30 764.19L787.30 761.16M787.30 764.19L789.84 763.25M787.30 764.19L788.87 766.64M787.30 764.19L785.73 766.64M787.30 764.19L784.76 763.25" stroke="#000" stroke-width="1.11" stroke-linecap="round" fill="none"/>
<path d="M786.34 761.16a0.96 0.96 0 1 0 1.92 0a0.96 0.96 0 1 0 -1.92 0M788.88 763.25a0.96 0.96 0 1 0 1.92 0a0.96 0.96 0 1 0 -1.92 0M787.91 766.64a0.96 0.96 0 1 0 1.92 0a0.96 0.96 0 1 0 -1.92 0M784.77 766.64a0.96 0.96 0 1 0 1.92 0a0.96 0.96 0 1 0 -1.92 0M783.80 763.25a0.96 0.96 0 1 0 1.92 0a0.96 0.96 0 1 0 -1.92 0M786.30 764.19a1.00 1.00 0 1 0 2.00 0a1.00 1.00 0 1 0 -2.00 0" fill="#000"/>
<path d="M843.80 777.37L843.80 774.51M843.80 777.37L846.39 776.49M843.80 777.37L845.40 779.69M843.80 777.37L842.20 779.69M843.80 777.37L841.21 776.49" stroke="#000" stroke-width="1.05" stroke-linecap="round" fill="none"/>
<path d="M842.89 774.51a0.91 0.91 0 1 0 1.82 0a0.91 0.91 0 1 0 -1.82 0M845.48 776.49a0.91 0.91 0 1 0 1.82 0a0.91 0.91 0 1 0 -1.82 0M844.49 779.69a0.91 0.91 0 1 0 1.82 0a0.91 0.91 0 1 0 -1.82 0M841.29 779.69a0.91 0.91 0 1 0 1.82 0a0.91 0.91 0 1 0 -1.82 0M840.30 776.49a0.91 0.91 0 1 0 1.82 0a0.91 0.91 0 1 0 -1.82 0M842.85 777.37a0.95 0.95 0 1 0 1.89 0a0.95 0.95 0 1 0 -1.89 0" fill="#000"/>
<path d="M886.61 788.19L886.61 785.16M886.61 788.19L889.25 787.25M886.61 788.19L888.24 790.64M886.61 788.19L884.97 790.64M886.61 788.19L883.96 787.25M894.99 788.19L894.99 785.16M894.99 788.19L897.64 787.25M894.99 788.19L896.63 790.64M894.99 788.19L893.36 790.64M894.99 788.19L892.35 787.25" stroke="#000" stroke-width="1.11" stroke-linecap="round" fill="none"/>
<path d="M885.64 785.16a0.96 0.96 0 1 0 1.92 0a0.96 0.96 0 1 0 -1.92 0M888.29 787.25a0.96 0.96 0 1 0 1.92 0a0.96 0.96 0 1 0 -1.92 0M887.28 790.64a0.96 0.96 0 1 0 1.92 0a0.96 0.96 0 1 0 -1.92 0M884.01 790.64a0.96 0.96 0 1 0 1.92 0a0.96 0.96 0 1 0 -1.92 0M883.00 787.25a0.96 0.96 0 1 0 1.92 0a0.96 0.96 0 1 0 -1.92 0M885.61 788.19a1.00 1.00 0 1 0 2.00 0a1.00 1.00 0 1 0 -2.00 0M894.03 785.16a0.96 0.96 0 1 0 1.92 0a0.96 0.96 0 1 0 -1.92 0M896.68 787.25a0.96 0.96 0 1 0 1.92 0a0.96 0.96 0 1 0 -1.92 0M895.67 790.64a0.96 0.96 0 1 0 1.92 0a0.96 0.96 0 1 0 -1.92 0M892.40 790.64a0.96 0.96 0 1 0 1.92 0a0.96 0.96 0 1 0 -1.92 0M891.39 787.25a0.96 0.96 0 1 0 1.92 0a0.96 0.96 0 1 0 -1.92 0M893.99 788.19a1.00 1.00 0 1 0 2.00 0a1.00 1.00 0 1 0 -2.00 0" fill="#000"/>
<text transform="translate(568.39,852.40) scale(0.9900,1)" font-family='"Liberation Serif", serif' font-weight="bold" font-size="20.30" fill="#000">12-HETE</text>
<text transform="translate(674.39,852.40) scale(0.9900,1)" font-family='"Liberation Serif", serif' font-weight="bold" font-size="20.30" fill="#000">15-HETE</text>
<text transform="translate(777.39,852.40) scale(0.9900,1)" font-family='"Liberation Serif", serif' font-weight="bold" font-size="20.30" fill="#000">16-HETE</text>
<text transform="translate(874.37,852.40) scale(1.0024,1)" font-family='"Liberation Serif", serif' font-weight="bold" font-size="20.30" fill="#000">17-HETE</text>
<text transform="translate(520.70,725.35) rotate(-90) scale(0.9928,1)" font-family='"Liberation Serif", serif' font-weight="bold" font-size="22.27" fill="#000">ng / mL</text>
<rect x="1017.40" y="559.00" width="3.80" height="251.00" fill="#000"/>
<rect x="1008.60" y="558.90" width="10.70" height="3.00" fill="#000"/>
<rect x="1008.60" y="640.90" width="10.70" height="3.00" fill="#000"/>
<rect x="1008.60" y="724.10" width="10.70" height="3.00" fill="#000"/>
<rect x="1008.60" y="806.50" width="10.70" height="3.00" fill="#000"/>
<rect x="1008.60" y="806.00" width="365.80" height="4.00" fill="#000"/>
<rect x="1072.60" y="809.00" width="4.00" height="10.60" fill="#000"/>
<rect x="1193.60" y="809.00" width="4.00" height="10.60" fill="#000"/>
<rect x="1315.40" y="809.00" width="4.00" height="10.60" fill="#000"/>
<text transform="translate(995.44,566.59) scale(0.8941,1)" font-family='"Liberation Sans", sans-serif' font-weight="bold" font-size="20.99" fill="#000">6</text>
<text transform="translate(994.88,648.59) scale(0.8941,1)" font-family='"Liberation Sans", sans-serif' font-weight="bold" font-size="20.99" fill="#000">4</text>
<text transform="translate(995.54,731.90) scale(0.8941,1)" font-family='"Liberation Sans", sans-serif' font-weight="bold" font-size="20.99" fill="#000">2</text>
<text transform="translate(995.54,814.19) scale(0.8941,1)" font-family='"Liberation Sans", sans-serif' font-weight="bold" font-size="20.99" fill="#000">0</text>
<rect x="1040.65" y="598.40" width="1.30" height="42.60" fill="#1e1e1e"/>
<rect x="1035.80" y="597.85" width="11.00" height="1.50" fill="#1e1e1e"/>
<rect x="1030.00" y="640.00" width="22.60" height="166.50" fill="#000"/>
<rect x="1073.50" y="672.00" width="1.30" height="19.40" fill="#1e1e1e"/>
<rect x="1068.65" y="671.45" width="11.00" height="1.50" fill="#1e1e1e"/>
<rect x="1063.30" y="690.40" width="21.70" height="116.10" fill="#000"/>
<rect x="1066.50" y="694.20" width="15.30" height="112.30" fill="#a3a3a8"/>
<rect x="1106.95" y="672.40" width="1.30" height="27.60" fill="#1e1e1e"/>
<rect x="1102.10" y="671.85" width="11.00" height="1.50" fill="#1e1e1e"/>
<rect x="1097.00" y="699.00" width="21.20" height="107.50" fill="#000"/>
<rect x="1100.20" y="702.80" width="14.80" height="103.70" fill="#fff"/>
<rect x="1162.35" y="724.60" width="1.30" height="24.00" fill="#1e1e1e"/>
<rect x="1157.50" y="724.05" width="11.00" height="1.50" fill="#1e1e1e"/>
<rect x="1152.40" y="747.60" width="21.20" height="58.90" fill="#000"/>
<rect x="1195.85" y="770.60" width="1.30" height="6.00" fill="#1e1e1e"/>
<rect x="1191.00" y="770.05" width="11.00" height="1.50" fill="#1e1e1e"/>
<rect x="1186.00" y="775.60" width="21.00" height="30.90" fill="#000"/>
<rect x="1189.20" y="779.40" width="14.60" height="27.10" fill="#a3a3a8"/>
<rect x="1228.35" y="754.40" width="1.30" height="12.60" fill="#1e1e1e"/>
<rect x="1223.50" y="753.85" width="11.00" height="1.50" fill="#1e1e1e"/>
<rect x="1218.40" y="766.00" width="21.20" height="40.50" fill="#000"/>
<rect x="1221.60" y="769.80" width="14.80" height="36.70" fill="#fff"/>
<rect x="1284.15" y="720.60" width="1.30" height="18.40" fill="#1e1e1e"/>
<rect x="1279.30" y="720.05" width="11.00" height="1.50" fill="#1e1e1e"/>
<rect x="1273.60" y="738.00" width="22.40" height="68.50" fill="#000"/>
<rect x="1316.85" y="756.00" width="1.30" height="5.00" fill="#1e1e1e"/>
<rect x="1312.00" y="755.45" width="11.00" height="1.50" fill="#1e1e1e"/>
<rect x="1307.00" y="760.00" width="21.00" height="46.50" fill="#000"/>
<rect x="1310.20" y="763.80" width="14.60" height="42.70" fill="#a3a3a8"/>
<rect x="1350.45" y="746.00" width="1.30" height="9.40" fill="#1e1e1e"/>
<rect x="1345.60" y="745.45" width="11.00" height="1.50" fill="#1e1e1e"/>
<rect x="1340.60" y="754.40" width="21.00" height="52.10" fill="#000"/>
<rect x="1343.80" y="758.20" width="14.60" height="48.30" fill="#fff"/>
<path d="M1037.54 590.65L1037.54 588.03M1037.54 590.65L1039.86 589.84M1037.54 590.65L1038.97 592.77M1037.54 590.65L1036.12 592.77M1037.54 590.65L1035.23 589.84M1044.86 590.65L1044.86 588.03M1044.86 590.65L1047.17 589.84M1044.86 590.65L1046.28 592.77M1044.86 590.65L1043.43 592.77M1044.86 590.65L1042.54 589.84" stroke="#000" stroke-width="1.00" stroke-linecap="round" fill="none"/>
<path d="M1036.71 588.03a0.83 0.83 0 1 0 1.66 0a0.83 0.83 0 1 0 -1.66 0M1039.02 589.84a0.83 0.83 0 1 0 1.66 0a0.83 0.83 0 1 0 -1.66 0M1038.14 592.77a0.83 0.83 0 1 0 1.66 0a0.83 0.83 0 1 0 -1.66 0M1035.28 592.77a0.83 0.83 0 1 0 1.66 0a0.83 0.83 0 1 0 -1.66 0M1034.40 589.84a0.83 0.83 0 1 0 1.66 0a0.83 0.83 0 1 0 -1.66 0M1036.64 590.65a0.90 0.90 0 1 0 1.80 0a0.90 0.90 0 1 0 -1.80 0M1044.02 588.03a0.83 0.83 0 1 0 1.66 0a0.83 0.83 0 1 0 -1.66 0M1046.34 589.84a0.83 0.83 0 1 0 1.66 0a0.83 0.83 0 1 0 -1.66 0M1045.45 592.77a0.83 0.83 0 1 0 1.66 0a0.83 0.83 0 1 0 -1.66 0M1042.59 592.77a0.83 0.83 0 1 0 1.66 0a0.83 0.83 0 1 0 -1.66 0M1041.71 589.84a0.83 0.83 0 1 0 1.66 0a0.83 0.83 0 1 0 -1.66 0M1043.96 590.65a0.90 0.90 0 1 0 1.80 0a0.90 0.90 0 1 0 -1.80 0" fill="#000"/>
<path d="M1159.41 716.65L1159.41 714.03M1159.41 716.65L1161.58 715.84M1159.41 716.65L1160.75 718.77M1159.41 716.65L1158.06 718.77M1159.41 716.65L1157.23 715.84M1166.39 716.65L1166.39 714.03M1166.39 716.65L1168.57 715.84M1166.39 716.65L1167.74 718.77M1166.39 716.65L1165.05 718.77M1166.39 716.65L1164.22 715.84" stroke="#000" stroke-width="1.00" stroke-linecap="round" fill="none"/>
<path d="M1158.57 714.03a0.83 0.83 0 1 0 1.66 0a0.83 0.83 0 1 0 -1.66 0M1160.75 715.84a0.83 0.83 0 1 0 1.66 0a0.83 0.83 0 1 0 -1.66 0M1159.92 718.77a0.83 0.83 0 1 0 1.66 0a0.83 0.83 0 1 0 -1.66 0M1157.23 718.77a0.83 0.83 0 1 0 1.66 0a0.83 0.83 0 1 0 -1.66 0M1156.40 715.84a0.83 0.83 0 1 0 1.66 0a0.83 0.83 0 1 0 -1.66 0M1158.51 716.65a0.90 0.90 0 1 0 1.80 0a0.90 0.90 0 1 0 -1.80 0M1165.56 714.03a0.83 0.83 0 1 0 1.66 0a0.83 0.83 0 1 0 -1.66 0M1167.74 715.84a0.83 0.83 0 1 0 1.66 0a0.83 0.83 0 1 0 -1.66 0M1166.91 718.77a0.83 0.83 0 1 0 1.66 0a0.83 0.83 0 1 0 -1.66 0M1164.22 718.77a0.83 0.83 0 1 0 1.66 0a0.83 0.83 0 1 0 -1.66 0M1163.39 715.84a0.83 0.83 0 1 0 1.66 0a0.83 0.83 0 1 0 -1.66 0M1165.49 716.65a0.90 0.90 0 1 0 1.80 0a0.90 0.90 0 1 0 -1.80 0" fill="#000"/>
<path d="M1229.00 744.65L1229.00 742.03M1229.00 744.65L1231.42 743.84M1229.00 744.65L1230.49 746.77M1229.00 744.65L1227.51 746.77M1229.00 744.65L1226.58 743.84" stroke="#000" stroke-width="1.00" stroke-linecap="round" fill="none"/>
<path d="M1228.17 742.03a0.83 0.83 0 1 0 1.66 0a0.83 0.83 0 1 0 -1.66 0M1230.59 743.84a0.83 0.83 0 1 0 1.66 0a0.83 0.83 0 1 0 -1.66 0M1229.66 746.77a0.83 0.83 0 1 0 1.66 0a0.83 0.83 0 1 0 -1.66 0M1226.67 746.77a0.83 0.83 0 1 0 1.66 0a0.83 0.83 0 1 0 -1.66 0M1225.75 743.84a0.83 0.83 0 1 0 1.66 0a0.83 0.83 0 1 0 -1.66 0M1228.10 744.65a0.90 0.90 0 1 0 1.80 0a0.90 0.90 0 1 0 -1.80 0" fill="#000"/>
<path d="M1281.01 712.97L1281.01 710.11M1281.01 712.97L1283.10 712.09M1281.01 712.97L1282.30 715.29M1281.01 712.97L1279.71 715.29M1281.01 712.97L1278.91 712.09M1287.99 712.97L1287.99 710.11M1287.99 712.97L1290.09 712.09M1287.99 712.97L1289.29 715.29M1287.99 712.97L1286.70 715.29M1287.99 712.97L1285.90 712.09" stroke="#000" stroke-width="1.05" stroke-linecap="round" fill="none"/>
<path d="M1280.10 710.11a0.91 0.91 0 1 0 1.82 0a0.91 0.91 0 1 0 -1.82 0M1282.19 712.09a0.91 0.91 0 1 0 1.82 0a0.91 0.91 0 1 0 -1.82 0M1281.39 715.29a0.91 0.91 0 1 0 1.82 0a0.91 0.91 0 1 0 -1.82 0M1278.80 715.29a0.91 0.91 0 1 0 1.82 0a0.91 0.91 0 1 0 -1.82 0M1278.00 712.09a0.91 0.91 0 1 0 1.82 0a0.91 0.91 0 1 0 -1.82 0M1280.06 712.97a0.95 0.95 0 1 0 1.89 0a0.95 0.95 0 1 0 -1.89 0M1287.08 710.11a0.91 0.91 0 1 0 1.82 0a0.91 0.91 0 1 0 -1.82 0M1289.18 712.09a0.91 0.91 0 1 0 1.82 0a0.91 0.91 0 1 0 -1.82 0M1288.38 715.29a0.91 0.91 0 1 0 1.82 0a0.91 0.91 0 1 0 -1.82 0M1285.79 715.29a0.91 0.91 0 1 0 1.82 0a0.91 0.91 0 1 0 -1.82 0M1284.99 712.09a0.91 0.91 0 1 0 1.82 0a0.91 0.91 0 1 0 -1.82 0M1287.05 712.97a0.95 0.95 0 1 0 1.89 0a0.95 0.95 0 1 0 -1.89 0" fill="#000"/>
<path d="M1351.10 738.65L1351.10 736.03M1351.10 738.65L1353.52 737.84M1351.10 738.65L1352.59 740.77M1351.10 738.65L1349.61 740.77M1351.10 738.65L1348.68 737.84" stroke="#000" stroke-width="1.00" stroke-linecap="round" fill="none"/>
<path d="M1350.27 736.03a0.83 0.83 0 1 0 1.66 0a0.83 0.83 0 1 0 -1.66 0M1352.69 737.84a0.83 0.83 0 1 0 1.66 0a0.83 0.83 0 1 0 -1.66 0M1351.76 740.77a0.83 0.83 0 1 0 1.66 0a0.83 0.83 0 1 0 -1.66 0M1348.77 740.77a0.83 0.83 0 1 0 1.66 0a0.83 0.83 0 1 0 -1.66 0M1347.85 737.84a0.83 0.83 0 1 0 1.66 0a0.83 0.83 0 1 0 -1.66 0M1350.20 738.65a0.90 0.90 0 1 0 1.80 0a0.90 0.90 0 1 0 -1.80 0" fill="#000"/>
<text transform="translate(1034.39,848.00) scale(1.0282,1)" font-family='"Liberation Serif", serif' font-weight="bold" font-size="19.55" fill="#000">18-HETE</text>
<text transform="translate(1159.39,848.00) scale(1.0205,1)" font-family='"Liberation Serif", serif' font-weight="bold" font-size="19.70" fill="#000">19-HETE</text>
<text transform="translate(1276.20,844.40) scale(0.9950,1)" font-family='"Liberation Serif", serif' font-weight="bold" font-size="20.15" fill="#000">20-HETE</text>
<text transform="translate(979.50,719.54) rotate(-90) scale(0.9898,1)" font-family='"Liberation Serif", serif' font-weight="bold" font-size="21.97" fill="#000">ng / mL</text>
<rect x="83.60" y="861.00" width="4.20" height="274.00" fill="#000"/>
<rect x="73.50" y="861.10" width="12.20" height="4.40" fill="#000"/>
<rect x="73.50" y="915.40" width="12.20" height="4.40" fill="#000"/>
<rect x="73.50" y="968.80" width="12.20" height="4.40" fill="#000"/>
<rect x="73.50" y="1022.40" width="12.20" height="4.40" fill="#000"/>
<rect x="73.50" y="1075.80" width="12.20" height="4.40" fill="#000"/>
<rect x="73.50" y="1130.80" width="12.20" height="4.40" fill="#000"/>
<rect x="73.50" y="1131.00" width="418.10" height="4.00" fill="#000"/>
<rect x="130.40" y="1134.00" width="4.00" height="10.00" fill="#000"/>
<rect x="233.60" y="1134.00" width="4.00" height="10.00" fill="#000"/>
<rect x="336.40" y="1134.00" width="4.00" height="10.00" fill="#000"/>
<rect x="439.60" y="1134.00" width="4.00" height="10.00" fill="#000"/>
<text transform="translate(59.09,870.29) scale(0.9752,1)" font-family='"Liberation Sans", sans-serif' font-weight="bold" font-size="20.71" fill="#000">5</text>
<text transform="translate(58.69,924.70) scale(0.9752,1)" font-family='"Liberation Sans", sans-serif' font-weight="bold" font-size="20.71" fill="#000">4</text>
<text transform="translate(59.30,978.10) scale(0.9752,1)" font-family='"Liberation Sans", sans-serif' font-weight="bold" font-size="20.71" fill="#000">3</text>
<text transform="translate(59.40,1031.80) scale(0.9752,1)" font-family='"Liberation Sans", sans-serif' font-weight="bold" font-size="20.71" fill="#000">2</text>
<text transform="translate(59.09,1085.10) scale(0.9752,1)" font-family='"Liberation Sans", sans-serif' font-weight="bold" font-size="20.71" fill="#000">1</text>
<text transform="translate(59.40,1140.10) scale(0.9752,1)" font-family='"Liberation Sans", sans-serif' font-weight="bold" font-size="20.71" fill="#000">0</text>
<rect x="104.35" y="1073.40" width="1.30" height="13.60" fill="#1e1e1e"/>
<rect x="100.50" y="1072.85" width="9.00" height="1.50" fill="#1e1e1e"/>
<rect x="95.60" y="1086.00" width="18.80" height="45.50" fill="#000"/>
<rect x="132.05" y="1090.00" width="1.30" height="5.00" fill="#1e1e1e"/>
<rect x="128.20" y="1089.45" width="9.00" height="1.50" fill="#1e1e1e"/>
<rect x="123.40" y="1094.00" width="18.60" height="37.50" fill="#000"/>
<rect x="127.20" y="1097.60" width="11.00" height="33.90" fill="#a3a3a8"/>
<rect x="160.15" y="1080.40" width="1.30" height="8.00" fill="#1e1e1e"/>
<rect x="156.30" y="1079.85" width="9.00" height="1.50" fill="#1e1e1e"/>
<rect x="152.00" y="1087.40" width="17.60" height="44.10" fill="#000"/>
<rect x="155.80" y="1091.00" width="10.00" height="40.50" fill="#fff"/>
<rect x="207.55" y="925.40" width="1.30" height="53.10" fill="#1e1e1e"/>
<rect x="203.70" y="924.85" width="9.00" height="1.50" fill="#1e1e1e"/>
<rect x="199.00" y="977.50" width="18.40" height="154.00" fill="#000"/>
<rect x="235.35" y="1008.00" width="1.30" height="13.60" fill="#1e1e1e"/>
<rect x="231.50" y="1007.45" width="9.00" height="1.50" fill="#1e1e1e"/>
<rect x="227.00" y="1020.60" width="18.00" height="110.90" fill="#000"/>
<rect x="230.80" y="1024.20" width="10.40" height="107.30" fill="#a3a3a8"/>
<rect x="263.55" y="994.50" width="1.30" height="15.50" fill="#1e1e1e"/>
<rect x="259.70" y="993.95" width="9.00" height="1.50" fill="#1e1e1e"/>
<rect x="255.00" y="1009.00" width="18.40" height="122.50" fill="#000"/>
<rect x="258.80" y="1012.60" width="10.80" height="118.90" fill="#fff"/>
<rect x="310.55" y="1088.60" width="1.30" height="12.00" fill="#1e1e1e"/>
<rect x="306.70" y="1088.05" width="9.00" height="1.50" fill="#1e1e1e"/>
<rect x="302.00" y="1099.60" width="18.40" height="31.90" fill="#000"/>
<rect x="338.85" y="1112.00" width="1.30" height="2.00" fill="#1e1e1e"/>
<rect x="335.00" y="1111.45" width="9.00" height="1.50" fill="#1e1e1e"/>
<rect x="331.00" y="1113.00" width="17.00" height="18.50" fill="#000"/>
<rect x="334.80" y="1116.60" width="9.40" height="14.90" fill="#a3a3a8"/>
<rect x="367.05" y="1109.00" width="1.30" height="3.00" fill="#1e1e1e"/>
<rect x="363.20" y="1108.45" width="9.00" height="1.50" fill="#1e1e1e"/>
<rect x="358.40" y="1111.00" width="18.60" height="20.50" fill="#000"/>
<rect x="362.20" y="1114.60" width="11.00" height="16.90" fill="#fff"/>
<rect x="413.65" y="955.80" width="1.30" height="49.20" fill="#1e1e1e"/>
<rect x="409.80" y="955.25" width="9.00" height="1.50" fill="#1e1e1e"/>
<rect x="405.00" y="1004.00" width="18.60" height="127.50" fill="#000"/>
<rect x="441.65" y="1087.40" width="1.30" height="8.60" fill="#1e1e1e"/>
<rect x="437.80" y="1086.85" width="9.00" height="1.50" fill="#1e1e1e"/>
<rect x="433.60" y="1095.00" width="17.40" height="36.50" fill="#000"/>
<rect x="437.40" y="1098.60" width="9.80" height="32.90" fill="#a3a3a8"/>
<rect x="470.15" y="1084.40" width="1.30" height="7.00" fill="#1e1e1e"/>
<rect x="466.30" y="1083.85" width="9.00" height="1.50" fill="#1e1e1e"/>
<rect x="461.60" y="1090.40" width="18.40" height="41.10" fill="#000"/>
<rect x="465.40" y="1094.00" width="10.80" height="37.50" fill="#fff"/>
<path d="M105.00 1065.25L105.00 1062.63M105.00 1065.25L107.67 1064.44M105.00 1065.25L106.65 1067.37M105.00 1065.25L103.35 1067.37M105.00 1065.25L102.33 1064.44" stroke="#000" stroke-width="1.00" stroke-linecap="round" fill="none"/>
<path d="M104.17 1062.63a0.83 0.83 0 1 0 1.66 0a0.83 0.83 0 1 0 -1.66 0M106.84 1064.44a0.83 0.83 0 1 0 1.66 0a0.83 0.83 0 1 0 -1.66 0M105.82 1067.37a0.83 0.83 0 1 0 1.66 0a0.83 0.83 0 1 0 -1.66 0M102.52 1067.37a0.83 0.83 0 1 0 1.66 0a0.83 0.83 0 1 0 -1.66 0M101.50 1064.44a0.83 0.83 0 1 0 1.66 0a0.83 0.83 0 1 0 -1.66 0M104.10 1065.25a0.90 0.90 0 1 0 1.80 0a0.90 0.90 0 1 0 -1.80 0" fill="#000"/>
<path d="M160.80 1073.25L160.80 1070.63M160.80 1073.25L163.47 1072.44M160.80 1073.25L162.45 1075.37M160.80 1073.25L159.15 1075.37M160.80 1073.25L158.13 1072.44" stroke="#000" stroke-width="1.00" stroke-linecap="round" fill="none"/>
<path d="M159.97 1070.63a0.83 0.83 0 1 0 1.66 0a0.83 0.83 0 1 0 -1.66 0M162.64 1072.44a0.83 0.83 0 1 0 1.66 0a0.83 0.83 0 1 0 -1.66 0M161.62 1075.37a0.83 0.83 0 1 0 1.66 0a0.83 0.83 0 1 0 -1.66 0M158.32 1075.37a0.83 0.83 0 1 0 1.66 0a0.83 0.83 0 1 0 -1.66 0M157.30 1072.44a0.83 0.83 0 1 0 1.66 0a0.83 0.83 0 1 0 -1.66 0M159.90 1073.25a0.90 0.90 0 1 0 1.80 0a0.90 0.90 0 1 0 -1.80 0" fill="#000"/>
<path d="M208.20 917.37L208.20 914.51M208.20 917.37L210.79 916.49M208.20 917.37L209.80 919.69M208.20 917.37L206.60 919.69M208.20 917.37L205.61 916.49" stroke="#000" stroke-width="1.05" stroke-linecap="round" fill="none"/>
<path d="M207.29 914.51a0.91 0.91 0 1 0 1.82 0a0.91 0.91 0 1 0 -1.82 0M209.88 916.49a0.91 0.91 0 1 0 1.82 0a0.91 0.91 0 1 0 -1.82 0M208.89 919.69a0.91 0.91 0 1 0 1.82 0a0.91 0.91 0 1 0 -1.82 0M205.69 919.69a0.91 0.91 0 1 0 1.82 0a0.91 0.91 0 1 0 -1.82 0M204.70 916.49a0.91 0.91 0 1 0 1.82 0a0.91 0.91 0 1 0 -1.82 0M207.25 917.37a0.95 0.95 0 1 0 1.89 0a0.95 0.95 0 1 0 -1.89 0" fill="#000"/>
<path d="M264.20 986.47L264.20 983.68M264.20 986.47L266.82 985.61M264.20 986.47L265.82 988.72M264.20 986.47L262.58 988.72M264.20 986.47L261.58 985.61" stroke="#000" stroke-width="1.02" stroke-linecap="round" fill="none"/>
<path d="M263.32 983.68a0.88 0.88 0 1 0 1.77 0a0.88 0.88 0 1 0 -1.77 0M265.93 985.61a0.88 0.88 0 1 0 1.77 0a0.88 0.88 0 1 0 -1.77 0M264.93 988.72a0.88 0.88 0 1 0 1.77 0a0.88 0.88 0 1 0 -1.77 0M261.70 988.72a0.88 0.88 0 1 0 1.77 0a0.88 0.88 0 1 0 -1.77 0M260.70 985.61a0.88 0.88 0 1 0 1.77 0a0.88 0.88 0 1 0 -1.77 0M263.28 986.47a0.92 0.92 0 1 0 1.84 0a0.92 0.92 0 1 0 -1.84 0" fill="#000"/>
<path d="M306.93 1079.87L306.93 1077.08M306.93 1079.87L309.37 1079.01M306.93 1079.87L308.44 1082.12M306.93 1079.87L305.42 1082.12M306.93 1079.87L304.48 1079.01M314.67 1079.87L314.67 1077.08M314.67 1079.87L317.12 1079.01M314.67 1079.87L316.18 1082.12M314.67 1079.87L313.16 1082.12M314.67 1079.87L312.23 1079.01" stroke="#000" stroke-width="1.02" stroke-linecap="round" fill="none"/>
<path d="M306.05 1077.08a0.88 0.88 0 1 0 1.77 0a0.88 0.88 0 1 0 -1.77 0M308.49 1079.01a0.88 0.88 0 1 0 1.77 0a0.88 0.88 0 1 0 -1.77 0M307.56 1082.12a0.88 0.88 0 1 0 1.77 0a0.88 0.88 0 1 0 -1.77 0M304.53 1082.12a0.88 0.88 0 1 0 1.77 0a0.88 0.88 0 1 0 -1.77 0M303.60 1079.01a0.88 0.88 0 1 0 1.77 0a0.88 0.88 0 1 0 -1.77 0M306.01 1079.87a0.92 0.92 0 1 0 1.84 0a0.92 0.92 0 1 0 -1.84 0M313.79 1077.08a0.88 0.88 0 1 0 1.77 0a0.88 0.88 0 1 0 -1.77 0M316.23 1079.01a0.88 0.88 0 1 0 1.77 0a0.88 0.88 0 1 0 -1.77 0M315.30 1082.12a0.88 0.88 0 1 0 1.77 0a0.88 0.88 0 1 0 -1.77 0M312.28 1082.12a0.88 0.88 0 1 0 1.77 0a0.88 0.88 0 1 0 -1.77 0M311.34 1079.01a0.88 0.88 0 1 0 1.77 0a0.88 0.88 0 1 0 -1.77 0M313.75 1079.87a0.92 0.92 0 1 0 1.84 0a0.92 0.92 0 1 0 -1.84 0" fill="#000"/>
<path d="M367.70 1101.87L367.70 1099.08M367.70 1101.87L370.32 1101.01M367.70 1101.87L369.32 1104.12M367.70 1101.87L366.08 1104.12M367.70 1101.87L365.08 1101.01" stroke="#000" stroke-width="1.02" stroke-linecap="round" fill="none"/>
<path d="M366.82 1099.08a0.88 0.88 0 1 0 1.77 0a0.88 0.88 0 1 0 -1.77 0M369.43 1101.01a0.88 0.88 0 1 0 1.77 0a0.88 0.88 0 1 0 -1.77 0M368.43 1104.12a0.88 0.88 0 1 0 1.77 0a0.88 0.88 0 1 0 -1.77 0M365.20 1104.12a0.88 0.88 0 1 0 1.77 0a0.88 0.88 0 1 0 -1.77 0M364.20 1101.01a0.88 0.88 0 1 0 1.77 0a0.88 0.88 0 1 0 -1.77 0M366.78 1101.87a0.92 0.92 0 1 0 1.84 0a0.92 0.92 0 1 0 -1.84 0" fill="#000"/>
<path d="M402.45 948.19L402.45 945.16M402.45 948.19L404.94 947.25M402.45 948.19L403.99 950.64M402.45 948.19L400.91 950.64M402.45 948.19L399.96 947.25M410.48 948.19L410.48 945.16M410.48 948.19L412.98 947.25M410.48 948.19L412.02 950.64M410.48 948.19L408.94 950.64M410.48 948.19L407.99 947.25M418.52 948.19L418.52 945.16M418.52 948.19L421.01 947.25M418.52 948.19L420.06 950.64M418.52 948.19L416.98 950.64M418.52 948.19L416.02 947.25M426.55 948.19L426.55 945.16M426.55 948.19L429.04 947.25M426.55 948.19L428.09 950.64M426.55 948.19L425.01 950.64M426.55 948.19L424.06 947.25" stroke="#000" stroke-width="1.11" stroke-linecap="round" fill="none"/>
<path d="M401.49 945.16a0.96 0.96 0 1 0 1.92 0a0.96 0.96 0 1 0 -1.92 0M403.98 947.25a0.96 0.96 0 1 0 1.92 0a0.96 0.96 0 1 0 -1.92 0M403.03 950.64a0.96 0.96 0 1 0 1.92 0a0.96 0.96 0 1 0 -1.92 0M399.95 950.64a0.96 0.96 0 1 0 1.92 0a0.96 0.96 0 1 0 -1.92 0M399.00 947.25a0.96 0.96 0 1 0 1.92 0a0.96 0.96 0 1 0 -1.92 0M401.45 948.19a1.00 1.00 0 1 0 2.00 0a1.00 1.00 0 1 0 -2.00 0M409.52 945.16a0.96 0.96 0 1 0 1.92 0a0.96 0.96 0 1 0 -1.92 0M412.01 947.25a0.96 0.96 0 1 0 1.92 0a0.96 0.96 0 1 0 -1.92 0M411.06 950.64a0.96 0.96 0 1 0 1.92 0a0.96 0.96 0 1 0 -1.92 0M407.98 950.64a0.96 0.96 0 1 0 1.92 0a0.96 0.96 0 1 0 -1.92 0M407.03 947.25a0.96 0.96 0 1 0 1.92 0a0.96 0.96 0 1 0 -1.92 0M409.49 948.19a1.00 1.00 0 1 0 2.00 0a1.00 1.00 0 1 0 -2.00 0M417.55 945.16a0.96 0.96 0 1 0 1.92 0a0.96 0.96 0 1 0 -1.92 0M420.05 947.25a0.96 0.96 0 1 0 1.92 0a0.96 0.96 0 1 0 -1.92 0M419.09 950.64a0.96 0.96 0 1 0 1.92 0a0.96 0.96 0 1 0 -1.92 0M416.01 950.64a0.96 0.96 0 1 0 1.92 0a0.96 0.96 0 1 0 -1.92 0M415.06 947.25a0.96 0.96 0 1 0 1.92 0a0.96 0.96 0 1 0 -1.92 0M417.52 948.19a1.00 1.00 0 1 0 2.00 0a1.00 1.00 0 1 0 -2.00 0M425.58 945.16a0.96 0.96 0 1 0 1.92 0a0.96 0.96 0 1 0 -1.92 0M428.08 947.25a0.96 0.96 0 1 0 1.92 0a0.96 0.96 0 1 0 -1.92 0M427.12 950.64a0.96 0.96 0 1 0 1.92 0a0.96 0.96 0 1 0 -1.92 0M424.04 950.64a0.96 0.96 0 1 0 1.92 0a0.96 0.96 0 1 0 -1.92 0M423.09 947.25a0.96 0.96 0 1 0 1.92 0a0.96 0.96 0 1 0 -1.92 0M425.55 948.19a1.00 1.00 0 1 0 2.00 0a1.00 1.00 0 1 0 -2.00 0" fill="#000"/>
<path d="M470.80 1077.19L470.80 1074.16M470.80 1077.19L473.34 1076.25M470.80 1077.19L472.37 1079.64M470.80 1077.19L469.23 1079.64M470.80 1077.19L468.26 1076.25" stroke="#000" stroke-width="1.11" stroke-linecap="round" fill="none"/>
<path d="M469.84 1074.16a0.96 0.96 0 1 0 1.92 0a0.96 0.96 0 1 0 -1.92 0M472.38 1076.25a0.96 0.96 0 1 0 1.92 0a0.96 0.96 0 1 0 -1.92 0M471.41 1079.64a0.96 0.96 0 1 0 1.92 0a0.96 0.96 0 1 0 -1.92 0M468.27 1079.64a0.96 0.96 0 1 0 1.92 0a0.96 0.96 0 1 0 -1.92 0M467.30 1076.25a0.96 0.96 0 1 0 1.92 0a0.96 0.96 0 1 0 -1.92 0M469.80 1077.19a1.00 1.00 0 1 0 2.00 0a1.00 1.00 0 1 0 -2.00 0" fill="#000"/>
<text transform="translate(102.22,1166.60) scale(0.9499,1)" font-family='"Liberation Serif", serif' font-weight="bold" font-size="20.61" fill="#000">5,6-EET</text>
<text transform="translate(196.30,1166.60) scale(0.9779,1)" font-family='"Liberation Serif", serif' font-weight="bold" font-size="20.45" fill="#000">8,9-EET</text>
<text transform="translate(296.76,1166.60) scale(0.9925,1)" font-family='"Liberation Serif", serif' font-weight="bold" font-size="20.61" fill="#000">11,12-EET</text>
<text transform="translate(400.78,1166.60) scale(0.9803,1)" font-family='"Liberation Serif", serif' font-weight="bold" font-size="20.61" fill="#000">14,15-EET</text>
<text transform="translate(44.90,1031.55) rotate(-90) scale(0.9901,1)" font-family='"Liberation Serif", serif' font-weight="bold" font-size="22.27" fill="#000">ng / mL</text>
<rect x="560.00" y="865.00" width="4.00" height="272.00" fill="#000"/>
<rect x="549.60" y="864.80" width="12.40" height="4.40" fill="#000"/>
<rect x="549.60" y="918.20" width="12.40" height="4.40" fill="#000"/>
<rect x="549.60" y="971.80" width="12.40" height="4.40" fill="#000"/>
<rect x="549.60" y="1025.30" width="12.40" height="4.40" fill="#000"/>
<rect x="549.60" y="1078.80" width="12.40" height="4.40" fill="#000"/>
<rect x="549.60" y="1133.00" width="12.40" height="4.40" fill="#000"/>
<rect x="549.60" y="1133.20" width="418.40" height="4.00" fill="#000"/>
<rect x="606.00" y="1136.20" width="4.00" height="10.40" fill="#000"/>
<rect x="710.00" y="1136.20" width="4.00" height="10.40" fill="#000"/>
<rect x="813.00" y="1136.20" width="4.00" height="10.40" fill="#000"/>
<rect x="915.60" y="1136.20" width="4.00" height="10.40" fill="#000"/>
<text transform="translate(535.29,873.99) scale(0.9752,1)" font-family='"Liberation Sans", sans-serif' font-weight="bold" font-size="20.71" fill="#000">5</text>
<text transform="translate(534.89,927.50) scale(0.9752,1)" font-family='"Liberation Sans", sans-serif' font-weight="bold" font-size="20.71" fill="#000">4</text>
<text transform="translate(535.50,981.10) scale(0.9752,1)" font-family='"Liberation Sans", sans-serif' font-weight="bold" font-size="20.71" fill="#000">3</text>
<text transform="translate(535.60,1034.70) scale(0.9752,1)" font-family='"Liberation Sans", sans-serif' font-weight="bold" font-size="20.71" fill="#000">2</text>
<text transform="translate(535.29,1088.10) scale(0.9752,1)" font-family='"Liberation Sans", sans-serif' font-weight="bold" font-size="20.71" fill="#000">1</text>
<text transform="translate(535.60,1142.30) scale(0.9752,1)" font-family='"Liberation Sans", sans-serif' font-weight="bold" font-size="20.71" fill="#000">0</text>
<rect x="580.65" y="1116.00" width="1.30" height="4.40" fill="#1e1e1e"/>
<rect x="576.80" y="1115.45" width="9.00" height="1.50" fill="#1e1e1e"/>
<rect x="572.00" y="1119.40" width="18.60" height="14.30" fill="#000"/>
<rect x="608.15" y="1094.00" width="1.30" height="9.00" fill="#1e1e1e"/>
<rect x="604.30" y="1093.45" width="9.00" height="1.50" fill="#1e1e1e"/>
<rect x="599.60" y="1102.00" width="18.40" height="31.70" fill="#000"/>
<rect x="603.20" y="1106.00" width="11.20" height="27.70" fill="#a3a3a8"/>
<rect x="636.55" y="1101.40" width="1.30" height="7.60" fill="#1e1e1e"/>
<rect x="632.70" y="1100.85" width="9.00" height="1.50" fill="#1e1e1e"/>
<rect x="628.00" y="1108.00" width="18.40" height="25.70" fill="#000"/>
<rect x="631.60" y="1112.00" width="11.20" height="21.70" fill="#fff"/>
<rect x="683.65" y="1111.40" width="1.30" height="6.20" fill="#1e1e1e"/>
<rect x="679.80" y="1110.85" width="9.00" height="1.50" fill="#1e1e1e"/>
<rect x="675.00" y="1116.60" width="18.60" height="17.10" fill="#000"/>
<rect x="711.15" y="1081.40" width="1.30" height="10.60" fill="#1e1e1e"/>
<rect x="707.30" y="1080.85" width="9.00" height="1.50" fill="#1e1e1e"/>
<rect x="702.60" y="1091.00" width="18.40" height="42.70" fill="#000"/>
<rect x="706.20" y="1095.00" width="11.20" height="38.70" fill="#a3a3a8"/>
<rect x="739.85" y="1087.00" width="1.30" height="9.00" fill="#1e1e1e"/>
<rect x="736.00" y="1086.45" width="9.00" height="1.50" fill="#1e1e1e"/>
<rect x="731.40" y="1095.00" width="18.20" height="38.70" fill="#000"/>
<rect x="735.00" y="1099.00" width="11.00" height="34.70" fill="#fff"/>
<rect x="786.65" y="994.40" width="1.30" height="34.00" fill="#1e1e1e"/>
<rect x="782.80" y="993.85" width="9.00" height="1.50" fill="#1e1e1e"/>
<rect x="778.00" y="1027.40" width="18.60" height="106.30" fill="#000"/>
<rect x="814.95" y="888.40" width="1.30" height="53.80" fill="#1e1e1e"/>
<rect x="811.10" y="887.85" width="9.00" height="1.50" fill="#1e1e1e"/>
<rect x="806.70" y="941.20" width="17.80" height="192.50" fill="#000"/>
<rect x="810.30" y="945.20" width="10.60" height="188.50" fill="#a3a3a8"/>
<rect x="842.95" y="953.40" width="1.30" height="26.60" fill="#1e1e1e"/>
<rect x="839.10" y="952.85" width="9.00" height="1.50" fill="#1e1e1e"/>
<rect x="834.60" y="979.00" width="18.00" height="154.70" fill="#000"/>
<rect x="838.20" y="983.00" width="10.80" height="150.70" fill="#fff"/>
<rect x="889.65" y="1043.00" width="1.30" height="18.50" fill="#1e1e1e"/>
<rect x="885.80" y="1042.45" width="9.00" height="1.50" fill="#1e1e1e"/>
<rect x="881.00" y="1060.50" width="18.60" height="73.20" fill="#000"/>
<rect x="917.65" y="911.00" width="1.30" height="41.40" fill="#1e1e1e"/>
<rect x="913.80" y="910.45" width="9.00" height="1.50" fill="#1e1e1e"/>
<rect x="909.60" y="951.40" width="17.40" height="182.30" fill="#000"/>
<rect x="913.20" y="955.40" width="10.20" height="178.30" fill="#a3a3a8"/>
<rect x="946.05" y="950.40" width="1.30" height="32.10" fill="#1e1e1e"/>
<rect x="942.20" y="949.85" width="9.00" height="1.50" fill="#1e1e1e"/>
<rect x="937.40" y="981.50" width="18.60" height="152.20" fill="#000"/>
<rect x="941.00" y="985.50" width="11.40" height="148.20" fill="#fff"/>
<path d="M568.50 1107.87L568.50 1105.08M568.50 1107.87L571.11 1107.01M568.50 1107.87L570.11 1110.12M568.50 1107.87L566.88 1110.12M568.50 1107.87L565.88 1107.01M576.63 1107.87L576.63 1105.08M576.63 1107.87L579.25 1107.01M576.63 1107.87L578.25 1110.12M576.63 1107.87L575.02 1110.12M576.63 1107.87L574.02 1107.01M584.77 1107.87L584.77 1105.08M584.77 1107.87L587.38 1107.01M584.77 1107.87L586.38 1110.12M584.77 1107.87L583.15 1110.12M584.77 1107.87L582.15 1107.01M592.90 1107.87L592.90 1105.08M592.90 1107.87L595.52 1107.01M592.90 1107.87L594.52 1110.12M592.90 1107.87L591.29 1110.12M592.90 1107.87L590.29 1107.01" stroke="#000" stroke-width="1.02" stroke-linecap="round" fill="none"/>
<path d="M567.61 1105.08a0.88 0.88 0 1 0 1.77 0a0.88 0.88 0 1 0 -1.77 0M570.23 1107.01a0.88 0.88 0 1 0 1.77 0a0.88 0.88 0 1 0 -1.77 0M569.23 1110.12a0.88 0.88 0 1 0 1.77 0a0.88 0.88 0 1 0 -1.77 0M566.00 1110.12a0.88 0.88 0 1 0 1.77 0a0.88 0.88 0 1 0 -1.77 0M565.00 1107.01a0.88 0.88 0 1 0 1.77 0a0.88 0.88 0 1 0 -1.77 0M567.58 1107.87a0.92 0.92 0 1 0 1.84 0a0.92 0.92 0 1 0 -1.84 0M575.75 1105.08a0.88 0.88 0 1 0 1.77 0a0.88 0.88 0 1 0 -1.77 0M578.36 1107.01a0.88 0.88 0 1 0 1.77 0a0.88 0.88 0 1 0 -1.77 0M577.36 1110.12a0.88 0.88 0 1 0 1.77 0a0.88 0.88 0 1 0 -1.77 0M574.13 1110.12a0.88 0.88 0 1 0 1.77 0a0.88 0.88 0 1 0 -1.77 0M573.13 1107.01a0.88 0.88 0 1 0 1.77 0a0.88 0.88 0 1 0 -1.77 0M575.71 1107.87a0.92 0.92 0 1 0 1.84 0a0.92 0.92 0 1 0 -1.84 0M583.88 1105.08a0.88 0.88 0 1 0 1.77 0a0.88 0.88 0 1 0 -1.77 0M586.50 1107.01a0.88 0.88 0 1 0 1.77 0a0.88 0.88 0 1 0 -1.77 0M585.50 1110.12a0.88 0.88 0 1 0 1.77 0a0.88 0.88 0 1 0 -1.77 0M582.27 1110.12a0.88 0.88 0 1 0 1.77 0a0.88 0.88 0 1 0 -1.77 0M581.27 1107.01a0.88 0.88 0 1 0 1.77 0a0.88 0.88 0 1 0 -1.77 0M583.85 1107.87a0.92 0.92 0 1 0 1.84 0a0.92 0.92 0 1 0 -1.84 0M592.02 1105.08a0.88 0.88 0 1 0 1.77 0a0.88 0.88 0 1 0 -1.77 0M594.63 1107.01a0.88 0.88 0 1 0 1.77 0a0.88 0.88 0 1 0 -1.77 0M593.63 1110.12a0.88 0.88 0 1 0 1.77 0a0.88 0.88 0 1 0 -1.77 0M590.40 1110.12a0.88 0.88 0 1 0 1.77 0a0.88 0.88 0 1 0 -1.77 0M589.40 1107.01a0.88 0.88 0 1 0 1.77 0a0.88 0.88 0 1 0 -1.77 0M591.98 1107.87a0.92 0.92 0 1 0 1.84 0a0.92 0.92 0 1 0 -1.84 0" fill="#000"/>
<path d="M637.20 1094.97L637.20 1092.11M637.20 1094.97L639.79 1094.09M637.20 1094.97L638.80 1097.29M637.20 1094.97L635.60 1097.29M637.20 1094.97L634.61 1094.09" stroke="#000" stroke-width="1.05" stroke-linecap="round" fill="none"/>
<path d="M636.29 1092.11a0.91 0.91 0 1 0 1.82 0a0.91 0.91 0 1 0 -1.82 0M638.88 1094.09a0.91 0.91 0 1 0 1.82 0a0.91 0.91 0 1 0 -1.82 0M637.89 1097.29a0.91 0.91 0 1 0 1.82 0a0.91 0.91 0 1 0 -1.82 0M634.69 1097.29a0.91 0.91 0 1 0 1.82 0a0.91 0.91 0 1 0 -1.82 0M633.70 1094.09a0.91 0.91 0 1 0 1.82 0a0.91 0.91 0 1 0 -1.82 0M636.26 1094.97a0.94 0.94 0 1 0 1.89 0a0.94 0.94 0 1 0 -1.89 0" fill="#000"/>
<path d="M670.45 1103.87L670.45 1101.08M670.45 1103.87L673.02 1103.01M670.45 1103.87L672.04 1106.12M670.45 1103.87L668.87 1106.12M670.45 1103.87L667.88 1103.01M678.48 1103.87L678.48 1101.08M678.48 1103.87L681.05 1103.01M678.48 1103.87L680.07 1106.12M678.48 1103.87L676.90 1106.12M678.48 1103.87L675.91 1103.01M686.52 1103.87L686.52 1101.08M686.52 1103.87L689.09 1103.01M686.52 1103.87L688.10 1106.12M686.52 1103.87L684.93 1106.12M686.52 1103.87L683.95 1103.01M694.55 1103.87L694.55 1101.08M694.55 1103.87L697.12 1103.01M694.55 1103.87L696.13 1106.12M694.55 1103.87L692.96 1106.12M694.55 1103.87L691.98 1103.01" stroke="#000" stroke-width="1.02" stroke-linecap="round" fill="none"/>
<path d="M669.57 1101.08a0.88 0.88 0 1 0 1.77 0a0.88 0.88 0 1 0 -1.77 0M672.14 1103.01a0.88 0.88 0 1 0 1.77 0a0.88 0.88 0 1 0 -1.77 0M671.16 1106.12a0.88 0.88 0 1 0 1.77 0a0.88 0.88 0 1 0 -1.77 0M667.98 1106.12a0.88 0.88 0 1 0 1.77 0a0.88 0.88 0 1 0 -1.77 0M667.00 1103.01a0.88 0.88 0 1 0 1.77 0a0.88 0.88 0 1 0 -1.77 0M669.54 1103.87a0.92 0.92 0 1 0 1.84 0a0.92 0.92 0 1 0 -1.84 0M677.60 1101.08a0.88 0.88 0 1 0 1.77 0a0.88 0.88 0 1 0 -1.77 0M680.17 1103.01a0.88 0.88 0 1 0 1.77 0a0.88 0.88 0 1 0 -1.77 0M679.19 1106.12a0.88 0.88 0 1 0 1.77 0a0.88 0.88 0 1 0 -1.77 0M676.01 1106.12a0.88 0.88 0 1 0 1.77 0a0.88 0.88 0 1 0 -1.77 0M675.03 1103.01a0.88 0.88 0 1 0 1.77 0a0.88 0.88 0 1 0 -1.77 0M677.57 1103.87a0.92 0.92 0 1 0 1.84 0a0.92 0.92 0 1 0 -1.84 0M685.63 1101.08a0.88 0.88 0 1 0 1.77 0a0.88 0.88 0 1 0 -1.77 0M688.20 1103.01a0.88 0.88 0 1 0 1.77 0a0.88 0.88 0 1 0 -1.77 0M687.22 1106.12a0.88 0.88 0 1 0 1.77 0a0.88 0.88 0 1 0 -1.77 0M684.04 1106.12a0.88 0.88 0 1 0 1.77 0a0.88 0.88 0 1 0 -1.77 0M683.06 1103.01a0.88 0.88 0 1 0 1.77 0a0.88 0.88 0 1 0 -1.77 0M685.60 1103.87a0.92 0.92 0 1 0 1.84 0a0.92 0.92 0 1 0 -1.84 0M693.66 1101.08a0.88 0.88 0 1 0 1.77 0a0.88 0.88 0 1 0 -1.77 0M696.23 1103.01a0.88 0.88 0 1 0 1.77 0a0.88 0.88 0 1 0 -1.77 0M695.25 1106.12a0.88 0.88 0 1 0 1.77 0a0.88 0.88 0 1 0 -1.77 0M692.07 1106.12a0.88 0.88 0 1 0 1.77 0a0.88 0.88 0 1 0 -1.77 0M691.09 1103.01a0.88 0.88 0 1 0 1.77 0a0.88 0.88 0 1 0 -1.77 0M693.63 1103.87a0.92 0.92 0 1 0 1.84 0a0.92 0.92 0 1 0 -1.84 0" fill="#000"/>
<path d="M777.46 986.19L777.46 983.16M777.46 986.19L779.95 985.25M777.46 986.19L779.00 988.64M777.46 986.19L775.92 988.64M777.46 986.19L774.96 985.25M785.50 986.19L785.50 983.16M785.50 986.19L788.00 985.25M785.50 986.19L787.04 988.64M785.50 986.19L783.96 988.64M785.50 986.19L783.00 985.25M793.54 986.19L793.54 983.16M793.54 986.19L796.04 985.25M793.54 986.19L795.08 988.64M793.54 986.19L792.00 988.64M793.54 986.19L791.05 985.25" stroke="#000" stroke-width="1.11" stroke-linecap="round" fill="none"/>
<path d="M776.50 983.16a0.96 0.96 0 1 0 1.92 0a0.96 0.96 0 1 0 -1.92 0M778.99 985.25a0.96 0.96 0 1 0 1.92 0a0.96 0.96 0 1 0 -1.92 0M778.04 988.64a0.96 0.96 0 1 0 1.92 0a0.96 0.96 0 1 0 -1.92 0M774.95 988.64a0.96 0.96 0 1 0 1.92 0a0.96 0.96 0 1 0 -1.92 0M774.00 985.25a0.96 0.96 0 1 0 1.92 0a0.96 0.96 0 1 0 -1.92 0M776.46 986.19a1.00 1.00 0 1 0 2.00 0a1.00 1.00 0 1 0 -2.00 0M784.54 983.16a0.96 0.96 0 1 0 1.92 0a0.96 0.96 0 1 0 -1.92 0M787.03 985.25a0.96 0.96 0 1 0 1.92 0a0.96 0.96 0 1 0 -1.92 0M786.08 988.64a0.96 0.96 0 1 0 1.92 0a0.96 0.96 0 1 0 -1.92 0M783.00 988.64a0.96 0.96 0 1 0 1.92 0a0.96 0.96 0 1 0 -1.92 0M782.04 985.25a0.96 0.96 0 1 0 1.92 0a0.96 0.96 0 1 0 -1.92 0M784.50 986.19a1.00 1.00 0 1 0 2.00 0a1.00 1.00 0 1 0 -2.00 0M792.58 983.16a0.96 0.96 0 1 0 1.92 0a0.96 0.96 0 1 0 -1.92 0M795.08 985.25a0.96 0.96 0 1 0 1.92 0a0.96 0.96 0 1 0 -1.92 0M794.12 988.64a0.96 0.96 0 1 0 1.92 0a0.96 0.96 0 1 0 -1.92 0M791.04 988.64a0.96 0.96 0 1 0 1.92 0a0.96 0.96 0 1 0 -1.92 0M790.08 985.25a0.96 0.96 0 1 0 1.92 0a0.96 0.96 0 1 0 -1.92 0M792.54 986.19a1.00 1.00 0 1 0 2.00 0a1.00 1.00 0 1 0 -2.00 0" fill="#000"/>
<path d="M843.60 945.37L843.60 942.51M843.60 945.37L846.19 944.49M843.60 945.37L845.20 947.69M843.60 945.37L842.00 947.69M843.60 945.37L841.01 944.49" stroke="#000" stroke-width="1.05" stroke-linecap="round" fill="none"/>
<path d="M842.69 942.51a0.91 0.91 0 1 0 1.82 0a0.91 0.91 0 1 0 -1.82 0M845.28 944.49a0.91 0.91 0 1 0 1.82 0a0.91 0.91 0 1 0 -1.82 0M844.29 947.69a0.91 0.91 0 1 0 1.82 0a0.91 0.91 0 1 0 -1.82 0M841.09 947.69a0.91 0.91 0 1 0 1.82 0a0.91 0.91 0 1 0 -1.82 0M840.10 944.49a0.91 0.91 0 1 0 1.82 0a0.91 0.91 0 1 0 -1.82 0M842.65 945.37a0.95 0.95 0 1 0 1.89 0a0.95 0.95 0 1 0 -1.89 0" fill="#000"/>
<path d="M878.50 1035.70L878.50 1032.59M878.50 1035.70L881.01 1034.74M878.50 1035.70L880.05 1038.21M878.50 1035.70L876.95 1038.21M878.50 1035.70L875.99 1034.74M886.63 1035.70L886.63 1032.59M886.63 1035.70L889.14 1034.74M886.63 1035.70L888.18 1038.21M886.63 1035.70L885.08 1038.21M886.63 1035.70L884.12 1034.74M894.77 1035.70L894.77 1032.59M894.77 1035.70L897.28 1034.74M894.77 1035.70L896.32 1038.21M894.77 1035.70L893.22 1038.21M894.77 1035.70L892.26 1034.74M902.90 1035.70L902.90 1032.59M902.90 1035.70L905.41 1034.74M902.90 1035.70L904.45 1038.21M902.90 1035.70L901.35 1038.21M902.90 1035.70L900.39 1034.74" stroke="#000" stroke-width="1.14" stroke-linecap="round" fill="none"/>
<path d="M877.51 1032.59a0.99 0.99 0 1 0 1.98 0a0.99 0.99 0 1 0 -1.98 0M880.02 1034.74a0.99 0.99 0 1 0 1.98 0a0.99 0.99 0 1 0 -1.98 0M879.06 1038.21a0.99 0.99 0 1 0 1.98 0a0.99 0.99 0 1 0 -1.98 0M875.96 1038.21a0.99 0.99 0 1 0 1.98 0a0.99 0.99 0 1 0 -1.98 0M875.00 1034.74a0.99 0.99 0 1 0 1.98 0a0.99 0.99 0 1 0 -1.98 0M877.47 1035.70a1.03 1.03 0 1 0 2.05 0a1.03 1.03 0 1 0 -2.05 0M885.64 1032.59a0.99 0.99 0 1 0 1.98 0a0.99 0.99 0 1 0 -1.98 0M888.15 1034.74a0.99 0.99 0 1 0 1.98 0a0.99 0.99 0 1 0 -1.98 0M887.20 1038.21a0.99 0.99 0 1 0 1.98 0a0.99 0.99 0 1 0 -1.98 0M884.09 1038.21a0.99 0.99 0 1 0 1.98 0a0.99 0.99 0 1 0 -1.98 0M883.13 1034.74a0.99 0.99 0 1 0 1.98 0a0.99 0.99 0 1 0 -1.98 0M885.61 1035.70a1.03 1.03 0 1 0 2.05 0a1.03 1.03 0 1 0 -2.05 0M893.78 1032.59a0.99 0.99 0 1 0 1.98 0a0.99 0.99 0 1 0 -1.98 0M896.29 1034.74a0.99 0.99 0 1 0 1.98 0a0.99 0.99 0 1 0 -1.98 0M895.33 1038.21a0.99 0.99 0 1 0 1.98 0a0.99 0.99 0 1 0 -1.98 0M892.23 1038.21a0.99 0.99 0 1 0 1.98 0a0.99 0.99 0 1 0 -1.98 0M891.27 1034.74a0.99 0.99 0 1 0 1.98 0a0.99 0.99 0 1 0 -1.98 0M893.74 1035.70a1.03 1.03 0 1 0 2.05 0a1.03 1.03 0 1 0 -2.05 0M901.91 1032.59a0.99 0.99 0 1 0 1.98 0a0.99 0.99 0 1 0 -1.98 0M904.42 1034.74a0.99 0.99 0 1 0 1.98 0a0.99 0.99 0 1 0 -1.98 0M903.47 1038.21a0.99 0.99 0 1 0 1.98 0a0.99 0.99 0 1 0 -1.98 0M900.36 1038.21a0.99 0.99 0 1 0 1.98 0a0.99 0.99 0 1 0 -1.98 0M899.40 1034.74a0.99 0.99 0 1 0 1.98 0a0.99 0.99 0 1 0 -1.98 0M901.88 1035.70a1.03 1.03 0 1 0 2.05 0a1.03 1.03 0 1 0 -2.05 0" fill="#000"/>
<path d="M946.70 942.65L946.70 940.03M946.70 942.65L949.37 941.84M946.70 942.65L948.35 944.77M946.70 942.65L945.05 944.77M946.70 942.65L944.03 941.84" stroke="#000" stroke-width="1.00" stroke-linecap="round" fill="none"/>
<path d="M945.87 940.03a0.83 0.83 0 1 0 1.66 0a0.83 0.83 0 1 0 -1.66 0M948.54 941.84a0.83 0.83 0 1 0 1.66 0a0.83 0.83 0 1 0 -1.66 0M947.52 944.77a0.83 0.83 0 1 0 1.66 0a0.83 0.83 0 1 0 -1.66 0M944.22 944.77a0.83 0.83 0 1 0 1.66 0a0.83 0.83 0 1 0 -1.66 0M943.20 941.84a0.83 0.83 0 1 0 1.66 0a0.83 0.83 0 1 0 -1.66 0M945.80 942.65a0.90 0.90 0 1 0 1.80 0a0.90 0.90 0 1 0 -1.80 0" fill="#000"/>
<text transform="translate(563.61,1168.00) scale(1.0084,1)" font-family='"Liberation Serif", serif' font-weight="bold" font-size="19.70" fill="#000">5,6-DHET</text>
<text transform="translate(668.31,1168.00) scale(1.0078,1)" font-family='"Liberation Serif", serif' font-weight="bold" font-size="19.55" fill="#000">8,9-DHET</text>
<text transform="translate(760.37,1168.00) scale(1.0318,1)" font-family='"Liberation Serif", serif' font-weight="bold" font-size="19.70" fill="#000">11,12-DHET</text>
<text transform="translate(884.00,1168.00) scale(1.0154,1)" font-family='"Liberation Serif", serif' font-weight="bold" font-size="19.70" fill="#000">14,15-DHET</text>
<text transform="translate(520.30,1030.95) rotate(-90) scale(0.9818,1)" font-family='"Liberation Serif", serif' font-weight="bold" font-size="22.27" fill="#000">ng / mL</text>
<rect x="1034.60" y="861.00" width="3.60" height="103.50" fill="#000"/>
<rect x="1034.60" y="981.50" width="3.60" height="153.50" fill="#000"/>
<rect x="1024.30" y="874.70" width="12.10" height="3.40" fill="#000"/>
<rect x="1024.30" y="900.70" width="12.10" height="3.40" fill="#000"/>
<rect x="1024.30" y="927.30" width="12.10" height="3.40" fill="#000"/>
<rect x="1024.30" y="954.30" width="12.10" height="3.40" fill="#000"/>
<rect x="1024.30" y="981.30" width="12.10" height="3.40" fill="#000"/>
<rect x="1024.30" y="1030.70" width="12.10" height="3.40" fill="#000"/>
<rect x="1024.30" y="1080.90" width="12.10" height="3.40" fill="#000"/>
<rect x="1024.30" y="1131.30" width="12.10" height="3.40" fill="#000"/>
<rect x="1024.30" y="1131.00" width="418.70" height="4.00" fill="#000"/>
<rect x="1080.40" y="1134.00" width="4.00" height="9.00" fill="#000"/>
<rect x="1184.60" y="1134.00" width="4.00" height="9.00" fill="#000"/>
<rect x="1288.00" y="1134.00" width="4.00" height="9.00" fill="#000"/>
<rect x="1391.00" y="1134.00" width="4.00" height="9.00" fill="#000"/>
<text transform="translate(998.49,883.90) scale(0.9306,1)" font-family='"Liberation Sans", sans-serif' font-weight="bold" font-size="21.59" fill="#000">14</text>
<text transform="translate(999.20,910.01) scale(0.9306,1)" font-family='"Liberation Sans", sans-serif' font-weight="bold" font-size="21.59" fill="#000">12</text>
<text transform="translate(999.20,936.50) scale(0.9306,1)" font-family='"Liberation Sans", sans-serif' font-weight="bold" font-size="21.59" fill="#000">10</text>
<text transform="translate(1010.15,963.50) scale(0.9306,1)" font-family='"Liberation Sans", sans-serif' font-weight="bold" font-size="21.59" fill="#000">8</text>
<text transform="translate(1010.25,990.50) scale(0.9306,1)" font-family='"Liberation Sans", sans-serif' font-weight="bold" font-size="21.59" fill="#000">6</text>
<text transform="translate(1009.65,1039.90) scale(0.9306,1)" font-family='"Liberation Sans", sans-serif' font-weight="bold" font-size="21.59" fill="#000">4</text>
<text transform="translate(1010.35,1090.21) scale(0.9306,1)" font-family='"Liberation Sans", sans-serif' font-weight="bold" font-size="21.59" fill="#000">2</text>
<text transform="translate(1010.35,1140.50) scale(0.9306,1)" font-family='"Liberation Sans", sans-serif' font-weight="bold" font-size="21.59" fill="#000">0</text>
<rect x="1055.15" y="1022.50" width="1.30" height="35.10" fill="#1e1e1e"/>
<rect x="1051.30" y="1021.95" width="9.00" height="1.50" fill="#1e1e1e"/>
<rect x="1046.60" y="1056.60" width="18.40" height="74.90" fill="#000"/>
<rect x="1083.05" y="1095.00" width="1.30" height="7.40" fill="#1e1e1e"/>
<rect x="1079.20" y="1094.45" width="9.00" height="1.50" fill="#1e1e1e"/>
<rect x="1075.00" y="1101.40" width="17.40" height="30.10" fill="#000"/>
<rect x="1078.60" y="1105.00" width="10.20" height="26.50" fill="#a3a3a8"/>
<rect x="1111.35" y="1090.60" width="1.30" height="6.00" fill="#1e1e1e"/>
<rect x="1107.50" y="1090.05" width="9.00" height="1.50" fill="#1e1e1e"/>
<rect x="1103.00" y="1095.60" width="18.00" height="35.90" fill="#000"/>
<rect x="1106.60" y="1099.20" width="10.80" height="32.30" fill="#fff"/>
<rect x="1186.65" y="1059.50" width="1.30" height="9.50" fill="#1e1e1e"/>
<rect x="1182.80" y="1058.95" width="9.00" height="1.50" fill="#1e1e1e"/>
<rect x="1178.00" y="1068.00" width="18.60" height="63.50" fill="#000"/>
<rect x="1181.60" y="1071.60" width="11.40" height="59.90" fill="#a3a3a8"/>
<rect x="1214.65" y="1054.00" width="1.30" height="7.40" fill="#1e1e1e"/>
<rect x="1210.80" y="1053.45" width="9.00" height="1.50" fill="#1e1e1e"/>
<rect x="1206.60" y="1060.40" width="17.40" height="71.10" fill="#000"/>
<rect x="1210.20" y="1064.00" width="10.20" height="67.50" fill="#fff"/>
<rect x="1261.35" y="1121.40" width="1.30" height="3.60" fill="#1e1e1e"/>
<rect x="1257.50" y="1120.85" width="9.00" height="1.50" fill="#1e1e1e"/>
<rect x="1253.00" y="1124.00" width="18.00" height="7.50" fill="#000"/>
<rect x="1281.00" y="1129.40" width="19.00" height="2.10" fill="#000"/>
<rect x="1310.00" y="1128.60" width="18.40" height="2.90" fill="#000"/>
<rect x="1365.15" y="1073.60" width="1.30" height="17.40" fill="#1e1e1e"/>
<rect x="1361.30" y="1073.05" width="9.00" height="1.50" fill="#1e1e1e"/>
<rect x="1356.60" y="1090.00" width="18.40" height="41.50" fill="#000"/>
<rect x="1385.00" y="1127.00" width="18.00" height="4.50" fill="#000"/>
<rect x="1388.60" y="1130.60" width="10.80" height="0.90" fill="#a3a3a8"/>
<rect x="1412.60" y="1126.00" width="18.40" height="5.50" fill="#000"/>
<rect x="1416.20" y="1129.60" width="11.20" height="1.90" fill="#fff"/>
<path d="M1048.61 1016.19L1048.61 1013.16M1048.61 1016.19L1051.25 1015.25M1048.61 1016.19L1050.24 1018.64M1048.61 1016.19L1046.97 1018.64M1048.61 1016.19L1045.96 1015.25M1057.00 1016.19L1057.00 1013.16M1057.00 1016.19L1059.65 1015.25M1057.00 1016.19L1058.64 1018.64M1057.00 1016.19L1055.36 1018.64M1057.00 1016.19L1054.35 1015.25M1065.39 1016.19L1065.39 1013.16M1065.39 1016.19L1068.04 1015.25M1065.39 1016.19L1067.03 1018.64M1065.39 1016.19L1063.76 1018.64M1065.39 1016.19L1062.75 1015.25" stroke="#000" stroke-width="1.11" stroke-linecap="round" fill="none"/>
<path d="M1047.65 1013.16a0.96 0.96 0 1 0 1.92 0a0.96 0.96 0 1 0 -1.92 0M1050.29 1015.25a0.96 0.96 0 1 0 1.92 0a0.96 0.96 0 1 0 -1.92 0M1049.28 1018.64a0.96 0.96 0 1 0 1.92 0a0.96 0.96 0 1 0 -1.92 0M1046.01 1018.64a0.96 0.96 0 1 0 1.92 0a0.96 0.96 0 1 0 -1.92 0M1045.00 1015.25a0.96 0.96 0 1 0 1.92 0a0.96 0.96 0 1 0 -1.92 0M1047.61 1016.19a1.00 1.00 0 1 0 2.00 0a1.00 1.00 0 1 0 -2.00 0M1056.04 1013.16a0.96 0.96 0 1 0 1.92 0a0.96 0.96 0 1 0 -1.92 0M1058.68 1015.25a0.96 0.96 0 1 0 1.92 0a0.96 0.96 0 1 0 -1.92 0M1057.67 1018.64a0.96 0.96 0 1 0 1.92 0a0.96 0.96 0 1 0 -1.92 0M1054.40 1018.64a0.96 0.96 0 1 0 1.92 0a0.96 0.96 0 1 0 -1.92 0M1053.39 1015.25a0.96 0.96 0 1 0 1.92 0a0.96 0.96 0 1 0 -1.92 0M1056.00 1016.19a1.00 1.00 0 1 0 2.00 0a1.00 1.00 0 1 0 -2.00 0M1064.43 1013.16a0.96 0.96 0 1 0 1.92 0a0.96 0.96 0 1 0 -1.92 0M1067.08 1015.25a0.96 0.96 0 1 0 1.92 0a0.96 0.96 0 1 0 -1.92 0M1066.07 1018.64a0.96 0.96 0 1 0 1.92 0a0.96 0.96 0 1 0 -1.92 0M1062.79 1018.64a0.96 0.96 0 1 0 1.92 0a0.96 0.96 0 1 0 -1.92 0M1061.78 1015.25a0.96 0.96 0 1 0 1.92 0a0.96 0.96 0 1 0 -1.92 0M1064.39 1016.19a1.00 1.00 0 1 0 2.00 0a1.00 1.00 0 1 0 -2.00 0" fill="#000"/>
<path d="M1112.00 1083.65L1112.00 1081.03M1112.00 1083.65L1114.67 1082.84M1112.00 1083.65L1113.65 1085.77M1112.00 1083.65L1110.35 1085.77M1112.00 1083.65L1109.33 1082.84" stroke="#000" stroke-width="1.00" stroke-linecap="round" fill="none"/>
<path d="M1111.17 1081.03a0.83 0.83 0 1 0 1.66 0a0.83 0.83 0 1 0 -1.66 0M1113.84 1082.84a0.83 0.83 0 1 0 1.66 0a0.83 0.83 0 1 0 -1.66 0M1112.82 1085.77a0.83 0.83 0 1 0 1.66 0a0.83 0.83 0 1 0 -1.66 0M1109.52 1085.77a0.83 0.83 0 1 0 1.66 0a0.83 0.83 0 1 0 -1.66 0M1108.50 1082.84a0.83 0.83 0 1 0 1.66 0a0.83 0.83 0 1 0 -1.66 0M1111.10 1083.65a0.90 0.90 0 1 0 1.80 0a0.90 0.90 0 1 0 -1.80 0" fill="#000"/>
<path d="M1146.56 907.00L1146.56 903.81M1146.56 907.00L1149.12 906.02M1146.56 907.00L1148.14 909.59M1146.56 907.00L1144.99 909.59M1146.56 907.00L1144.01 906.02M1154.85 907.00L1154.85 903.81M1154.85 907.00L1157.41 906.02M1154.85 907.00L1156.43 909.59M1154.85 907.00L1153.28 909.59M1154.85 907.00L1152.30 906.02M1163.15 907.00L1163.15 903.81M1163.15 907.00L1165.70 906.02M1163.15 907.00L1164.72 909.59M1163.15 907.00L1161.57 909.59M1163.15 907.00L1160.59 906.02M1171.44 907.00L1171.44 903.81M1171.44 907.00L1173.99 906.02M1171.44 907.00L1173.01 909.59M1171.44 907.00L1169.86 909.59M1171.44 907.00L1168.88 906.02" stroke="#000" stroke-width="1.17" stroke-linecap="round" fill="none"/>
<path d="M1145.55 903.81a1.01 1.01 0 1 0 2.03 0a1.01 1.01 0 1 0 -2.03 0M1148.10 906.02a1.01 1.01 0 1 0 2.03 0a1.01 1.01 0 1 0 -2.03 0M1147.13 909.59a1.01 1.01 0 1 0 2.03 0a1.01 1.01 0 1 0 -2.03 0M1143.97 909.59a1.01 1.01 0 1 0 2.03 0a1.01 1.01 0 1 0 -2.03 0M1143.00 906.02a1.01 1.01 0 1 0 2.03 0a1.01 1.01 0 1 0 -2.03 0M1145.51 907.00a1.05 1.05 0 1 0 2.11 0a1.05 1.05 0 1 0 -2.11 0M1153.84 903.81a1.01 1.01 0 1 0 2.03 0a1.01 1.01 0 1 0 -2.03 0M1156.39 906.02a1.01 1.01 0 1 0 2.03 0a1.01 1.01 0 1 0 -2.03 0M1155.42 909.59a1.01 1.01 0 1 0 2.03 0a1.01 1.01 0 1 0 -2.03 0M1152.26 909.59a1.01 1.01 0 1 0 2.03 0a1.01 1.01 0 1 0 -2.03 0M1151.29 906.02a1.01 1.01 0 1 0 2.03 0a1.01 1.01 0 1 0 -2.03 0M1153.80 907.00a1.05 1.05 0 1 0 2.11 0a1.05 1.05 0 1 0 -2.11 0M1162.13 903.81a1.01 1.01 0 1 0 2.03 0a1.01 1.01 0 1 0 -2.03 0M1164.68 906.02a1.01 1.01 0 1 0 2.03 0a1.01 1.01 0 1 0 -2.03 0M1163.71 909.59a1.01 1.01 0 1 0 2.03 0a1.01 1.01 0 1 0 -2.03 0M1160.55 909.59a1.01 1.01 0 1 0 2.03 0a1.01 1.01 0 1 0 -2.03 0M1159.58 906.02a1.01 1.01 0 1 0 2.03 0a1.01 1.01 0 1 0 -2.03 0M1162.09 907.00a1.05 1.05 0 1 0 2.11 0a1.05 1.05 0 1 0 -2.11 0M1170.42 903.81a1.01 1.01 0 1 0 2.03 0a1.01 1.01 0 1 0 -2.03 0M1172.97 906.02a1.01 1.01 0 1 0 2.03 0a1.01 1.01 0 1 0 -2.03 0M1172.00 909.59a1.01 1.01 0 1 0 2.03 0a1.01 1.01 0 1 0 -2.03 0M1168.84 909.59a1.01 1.01 0 1 0 2.03 0a1.01 1.01 0 1 0 -2.03 0M1167.87 906.02a1.01 1.01 0 1 0 2.03 0a1.01 1.01 0 1 0 -2.03 0M1170.38 907.00a1.05 1.05 0 1 0 2.11 0a1.05 1.05 0 1 0 -2.11 0" fill="#000"/>
<path d="M1215.30 1048.37L1215.30 1045.51M1215.30 1048.37L1217.89 1047.49M1215.30 1048.37L1216.90 1050.69M1215.30 1048.37L1213.70 1050.69M1215.30 1048.37L1212.71 1047.49" stroke="#000" stroke-width="1.05" stroke-linecap="round" fill="none"/>
<path d="M1214.39 1045.51a0.91 0.91 0 1 0 1.82 0a0.91 0.91 0 1 0 -1.82 0M1216.98 1047.49a0.91 0.91 0 1 0 1.82 0a0.91 0.91 0 1 0 -1.82 0M1215.99 1050.69a0.91 0.91 0 1 0 1.82 0a0.91 0.91 0 1 0 -1.82 0M1212.79 1050.69a0.91 0.91 0 1 0 1.82 0a0.91 0.91 0 1 0 -1.82 0M1211.80 1047.49a0.91 0.91 0 1 0 1.82 0a0.91 0.91 0 1 0 -1.82 0M1214.36 1048.37a0.94 0.94 0 1 0 1.89 0a0.94 0.94 0 1 0 -1.89 0" fill="#000"/>
<path d="M1255.55 1116.19L1255.55 1113.16M1255.55 1116.19L1258.13 1115.25M1255.55 1116.19L1257.15 1118.64M1255.55 1116.19L1253.95 1118.64M1255.55 1116.19L1252.96 1115.25M1263.80 1116.19L1263.80 1113.16M1263.80 1116.19L1266.39 1115.25M1263.80 1116.19L1265.40 1118.64M1263.80 1116.19L1262.20 1118.64M1263.80 1116.19L1261.21 1115.25M1272.05 1116.19L1272.05 1113.16M1272.05 1116.19L1274.64 1115.25M1272.05 1116.19L1273.65 1118.64M1272.05 1116.19L1270.45 1118.64M1272.05 1116.19L1269.47 1115.25" stroke="#000" stroke-width="1.11" stroke-linecap="round" fill="none"/>
<path d="M1254.59 1113.16a0.96 0.96 0 1 0 1.92 0a0.96 0.96 0 1 0 -1.92 0M1257.17 1115.25a0.96 0.96 0 1 0 1.92 0a0.96 0.96 0 1 0 -1.92 0M1256.18 1118.64a0.96 0.96 0 1 0 1.92 0a0.96 0.96 0 1 0 -1.92 0M1252.99 1118.64a0.96 0.96 0 1 0 1.92 0a0.96 0.96 0 1 0 -1.92 0M1252.00 1115.25a0.96 0.96 0 1 0 1.92 0a0.96 0.96 0 1 0 -1.92 0M1254.55 1116.19a1.00 1.00 0 1 0 2.00 0a1.00 1.00 0 1 0 -2.00 0M1262.84 1113.16a0.96 0.96 0 1 0 1.92 0a0.96 0.96 0 1 0 -1.92 0M1265.42 1115.25a0.96 0.96 0 1 0 1.92 0a0.96 0.96 0 1 0 -1.92 0M1264.44 1118.64a0.96 0.96 0 1 0 1.92 0a0.96 0.96 0 1 0 -1.92 0M1261.24 1118.64a0.96 0.96 0 1 0 1.92 0a0.96 0.96 0 1 0 -1.92 0M1260.25 1115.25a0.96 0.96 0 1 0 1.92 0a0.96 0.96 0 1 0 -1.92 0M1262.80 1116.19a1.00 1.00 0 1 0 2.00 0a1.00 1.00 0 1 0 -2.00 0M1271.09 1113.16a0.96 0.96 0 1 0 1.92 0a0.96 0.96 0 1 0 -1.92 0M1273.68 1115.25a0.96 0.96 0 1 0 1.92 0a0.96 0.96 0 1 0 -1.92 0M1272.69 1118.64a0.96 0.96 0 1 0 1.92 0a0.96 0.96 0 1 0 -1.92 0M1269.49 1118.64a0.96 0.96 0 1 0 1.92 0a0.96 0.96 0 1 0 -1.92 0M1268.50 1115.25a0.96 0.96 0 1 0 1.92 0a0.96 0.96 0 1 0 -1.92 0M1271.05 1116.19a1.00 1.00 0 1 0 2.00 0a1.00 1.00 0 1 0 -2.00 0" fill="#000"/>
<path d="M1319.20 1122.37L1319.20 1119.51M1319.20 1122.37L1321.79 1121.49M1319.20 1122.37L1320.80 1124.69M1319.20 1122.37L1317.60 1124.69M1319.20 1122.37L1316.61 1121.49" stroke="#000" stroke-width="1.05" stroke-linecap="round" fill="none"/>
<path d="M1318.29 1119.51a0.91 0.91 0 1 0 1.82 0a0.91 0.91 0 1 0 -1.82 0M1320.88 1121.49a0.91 0.91 0 1 0 1.82 0a0.91 0.91 0 1 0 -1.82 0M1319.89 1124.69a0.91 0.91 0 1 0 1.82 0a0.91 0.91 0 1 0 -1.82 0M1316.69 1124.69a0.91 0.91 0 1 0 1.82 0a0.91 0.91 0 1 0 -1.82 0M1315.70 1121.49a0.91 0.91 0 1 0 1.82 0a0.91 0.91 0 1 0 -1.82 0M1318.26 1122.37a0.94 0.94 0 1 0 1.89 0a0.94 0.94 0 1 0 -1.89 0" fill="#000"/>
<path d="M1353.88 1068.97L1353.88 1066.11M1353.88 1068.97L1356.44 1068.09M1353.88 1068.97L1355.46 1071.29M1353.88 1068.97L1352.29 1071.29M1353.88 1068.97L1351.31 1068.09M1361.96 1068.97L1361.96 1066.11M1361.96 1068.97L1364.52 1068.09M1361.96 1068.97L1363.54 1071.29M1361.96 1068.97L1360.37 1071.29M1361.96 1068.97L1359.39 1068.09M1370.04 1068.97L1370.04 1066.11M1370.04 1068.97L1372.61 1068.09M1370.04 1068.97L1371.63 1071.29M1370.04 1068.97L1368.46 1071.29M1370.04 1068.97L1367.48 1068.09M1378.12 1068.97L1378.12 1066.11M1378.12 1068.97L1380.69 1068.09M1378.12 1068.97L1379.71 1071.29M1378.12 1068.97L1376.54 1071.29M1378.12 1068.97L1375.56 1068.09" stroke="#000" stroke-width="1.05" stroke-linecap="round" fill="none"/>
<path d="M1352.97 1066.11a0.91 0.91 0 1 0 1.82 0a0.91 0.91 0 1 0 -1.82 0M1355.53 1068.09a0.91 0.91 0 1 0 1.82 0a0.91 0.91 0 1 0 -1.82 0M1354.55 1071.29a0.91 0.91 0 1 0 1.82 0a0.91 0.91 0 1 0 -1.82 0M1351.38 1071.29a0.91 0.91 0 1 0 1.82 0a0.91 0.91 0 1 0 -1.82 0M1350.40 1068.09a0.91 0.91 0 1 0 1.82 0a0.91 0.91 0 1 0 -1.82 0M1352.93 1068.97a0.94 0.94 0 1 0 1.89 0a0.94 0.94 0 1 0 -1.89 0M1361.05 1066.11a0.91 0.91 0 1 0 1.82 0a0.91 0.91 0 1 0 -1.82 0M1363.61 1068.09a0.91 0.91 0 1 0 1.82 0a0.91 0.91 0 1 0 -1.82 0M1362.63 1071.29a0.91 0.91 0 1 0 1.82 0a0.91 0.91 0 1 0 -1.82 0M1359.46 1071.29a0.91 0.91 0 1 0 1.82 0a0.91 0.91 0 1 0 -1.82 0M1358.48 1068.09a0.91 0.91 0 1 0 1.82 0a0.91 0.91 0 1 0 -1.82 0M1361.01 1068.97a0.94 0.94 0 1 0 1.89 0a0.94 0.94 0 1 0 -1.89 0M1369.13 1066.11a0.91 0.91 0 1 0 1.82 0a0.91 0.91 0 1 0 -1.82 0M1371.70 1068.09a0.91 0.91 0 1 0 1.82 0a0.91 0.91 0 1 0 -1.82 0M1370.72 1071.29a0.91 0.91 0 1 0 1.82 0a0.91 0.91 0 1 0 -1.82 0M1367.55 1071.29a0.91 0.91 0 1 0 1.82 0a0.91 0.91 0 1 0 -1.82 0M1366.57 1068.09a0.91 0.91 0 1 0 1.82 0a0.91 0.91 0 1 0 -1.82 0M1369.10 1068.97a0.94 0.94 0 1 0 1.89 0a0.94 0.94 0 1 0 -1.89 0M1377.21 1066.11a0.91 0.91 0 1 0 1.82 0a0.91 0.91 0 1 0 -1.82 0M1379.78 1068.09a0.91 0.91 0 1 0 1.82 0a0.91 0.91 0 1 0 -1.82 0M1378.80 1071.29a0.91 0.91 0 1 0 1.82 0a0.91 0.91 0 1 0 -1.82 0M1375.63 1071.29a0.91 0.91 0 1 0 1.82 0a0.91 0.91 0 1 0 -1.82 0M1374.65 1068.09a0.91 0.91 0 1 0 1.82 0a0.91 0.91 0 1 0 -1.82 0M1377.18 1068.97a0.94 0.94 0 1 0 1.89 0a0.94 0.94 0 1 0 -1.89 0" fill="#000"/>
<path d="M1417.47 1120.97L1417.47 1118.11M1417.47 1120.97L1420.03 1120.09M1417.47 1120.97L1419.05 1123.29M1417.47 1120.97L1415.89 1123.29M1417.47 1120.97L1414.91 1120.09M1425.53 1120.97L1425.53 1118.11M1425.53 1120.97L1428.09 1120.09M1425.53 1120.97L1427.11 1123.29M1425.53 1120.97L1423.95 1123.29M1425.53 1120.97L1422.97 1120.09" stroke="#000" stroke-width="1.05" stroke-linecap="round" fill="none"/>
<path d="M1416.56 1118.11a0.91 0.91 0 1 0 1.82 0a0.91 0.91 0 1 0 -1.82 0M1419.12 1120.09a0.91 0.91 0 1 0 1.82 0a0.91 0.91 0 1 0 -1.82 0M1418.14 1123.29a0.91 0.91 0 1 0 1.82 0a0.91 0.91 0 1 0 -1.82 0M1414.98 1123.29a0.91 0.91 0 1 0 1.82 0a0.91 0.91 0 1 0 -1.82 0M1414.00 1120.09a0.91 0.91 0 1 0 1.82 0a0.91 0.91 0 1 0 -1.82 0M1416.52 1120.97a0.94 0.94 0 1 0 1.89 0a0.94 0.94 0 1 0 -1.89 0M1424.62 1118.11a0.91 0.91 0 1 0 1.82 0a0.91 0.91 0 1 0 -1.82 0M1427.18 1120.09a0.91 0.91 0 1 0 1.82 0a0.91 0.91 0 1 0 -1.82 0M1426.20 1123.29a0.91 0.91 0 1 0 1.82 0a0.91 0.91 0 1 0 -1.82 0M1423.04 1123.29a0.91 0.91 0 1 0 1.82 0a0.91 0.91 0 1 0 -1.82 0M1422.06 1120.09a0.91 0.91 0 1 0 1.82 0a0.91 0.91 0 1 0 -1.82 0M1424.59 1120.97a0.94 0.94 0 1 0 1.89 0a0.94 0.94 0 1 0 -1.89 0" fill="#000"/>
<text transform="translate(1068.19,1163.40) scale(1.0822,1)" font-family='"Liberation Serif", serif' font-weight="bold" font-size="18.79" fill="#000">5,6-</text>
<text transform="translate(1174.89,1163.40) scale(1.0939,1)" font-family='"Liberation Serif", serif' font-weight="bold" font-size="18.65" fill="#000">8,9-</text>
<text transform="translate(1267.89,1163.40) scale(1.1352,1)" font-family='"Liberation Serif", serif' font-weight="bold" font-size="18.79" fill="#000">11,12-</text>
<text transform="translate(1369.36,1163.40) scale(1.0926,1)" font-family='"Liberation Serif", serif' font-weight="bold" font-size="18.79" fill="#000">14,15-</text>
<text transform="translate(1035.31,1186.60) scale(0.9305,1)" font-family='"Liberation Serif", serif' font-weight="bold" font-size="20.61" fill="#000">EET/DHET</text>
<text transform="translate(1142.11,1186.60) scale(0.9324,1)" font-family='"Liberation Serif", serif' font-weight="bold" font-size="20.61" fill="#000">EET/DHET</text>
<text transform="translate(1245.21,1186.60) scale(0.9314,1)" font-family='"Liberation Serif", serif' font-weight="bold" font-size="20.61" fill="#000">EET/DHET</text>
<text transform="translate(1347.71,1186.60) scale(0.9314,1)" font-family='"Liberation Serif", serif' font-weight="bold" font-size="20.61" fill="#000">EET/DHET</text>
<text transform="translate(998.00,1032.54) rotate(-90) scale(0.9763,1)" font-family='"Liberation Serif", serif' font-weight="bold" font-size="22.27" fill="#000">ng / mL</text>
<rect x="1149.40" y="983.00" width="18.60" height="148.50" fill="#000"/>
<rect x="1149.40" y="952.60" width="18.60" height="10.40" fill="#000"/>
<rect x="1158.05" y="913.00" width="1.30" height="40.00" fill="#000"/>
<rect x="1154.20" y="912.45" width="9.00" height="1.50" fill="#000"/>
<rect x="1030.00" y="961.25" width="13.00" height="3.50" fill="#000"/>
<rect x="1030.00" y="981.25" width="13.00" height="3.50" fill="#000"/>
<rect x="1326.60" y="74.00" width="22.40" height="10.60" fill="#000"/>
<rect x="1326.60" y="101.00" width="22.40" height="10.40" fill="#000"/>
<rect x="1331.00" y="103.60" width="14.00" height="5.40" fill="#a3a3a8"/>
<rect x="1326.60" y="128.60" width="22.40" height="10.80" fill="#000"/>
<rect x="1331.00" y="131.00" width="14.00" height="5.60" fill="#fff"/>
<text transform="translate(1360.92,84.00) scale(0.8433,1)" font-family='"Liberation Sans", sans-serif' font-weight="normal" font-size="19.71" fill="#000">WKY</text>
<text transform="translate(1360.24,110.82) scale(0.9193,1)" font-family='"Liberation Sans", sans-serif' font-weight="normal" font-size="18.31" fill="#000">SHR</text>
<text transform="translate(1359.69,137.82) scale(0.9852,1)" font-family='"Liberation Sans", sans-serif' font-weight="normal" font-size="17.71" fill="#000">URM</text>
</svg></body></html>
